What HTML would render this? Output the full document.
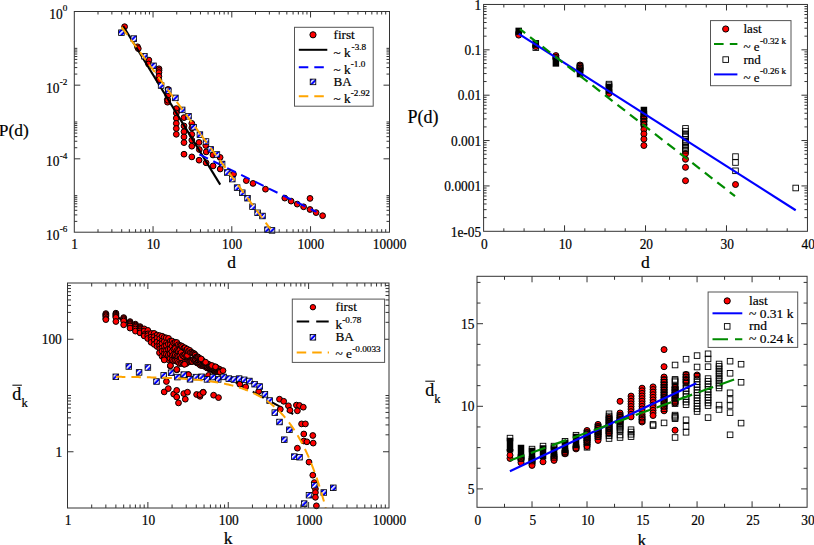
<!DOCTYPE html>
<html><head><meta charset="utf-8"><style>
html,body{margin:0;padding:0;background:#fff;}
svg{display:block;}
text{font-family:"Liberation Serif",serif;fill:#000;stroke:#000;stroke-width:0.2px;}
</style></head><body>
<svg width="814" height="545" viewBox="0 0 814 545">
<defs><pattern id="h" width="3.6" height="3.6" patternUnits="userSpaceOnUse" patternTransform="rotate(45)"><rect width="3.6" height="3.6" fill="#0000ff"/><rect width="1.5" height="3.6" fill="#fff"/></pattern></defs>
<rect width="814" height="545" fill="#fff"/>
<circle cx="124.6" cy="26.7" r="2.9" fill="#f00" stroke="#000" stroke-width="1.0"/>
<circle cx="137.5" cy="46.8" r="2.9" fill="#f00" stroke="#000" stroke-width="1.0"/>
<circle cx="138.3" cy="48.6" r="2.9" fill="#f00" stroke="#000" stroke-width="1.0"/>
<circle cx="148.9" cy="60.1" r="2.9" fill="#f00" stroke="#000" stroke-width="1.0"/>
<circle cx="148.6" cy="64" r="2.9" fill="#f00" stroke="#000" stroke-width="1.0"/>
<circle cx="159" cy="68.8" r="2.9" fill="#f00" stroke="#000" stroke-width="1.0"/>
<circle cx="159" cy="70.5" r="2.9" fill="#f00" stroke="#000" stroke-width="1.0"/>
<circle cx="158.9" cy="72.6" r="2.9" fill="#f00" stroke="#000" stroke-width="1.0"/>
<circle cx="158.9" cy="76.3" r="2.9" fill="#f00" stroke="#000" stroke-width="1.0"/>
<circle cx="158.9" cy="80" r="2.9" fill="#f00" stroke="#000" stroke-width="1.0"/>
<circle cx="168.1" cy="89.4" r="2.9" fill="#f00" stroke="#000" stroke-width="1.0"/>
<circle cx="167.3" cy="99.6" r="2.9" fill="#f00" stroke="#000" stroke-width="1.0"/>
<circle cx="167.5" cy="102.2" r="2.9" fill="#f00" stroke="#000" stroke-width="1.0"/>
<circle cx="167.8" cy="95.6" r="2.9" fill="#f00" stroke="#000" stroke-width="1.0"/>
<circle cx="167.8" cy="100.2" r="2.9" fill="#f00" stroke="#000" stroke-width="1.0"/>
<circle cx="176.3" cy="108.6" r="2.9" fill="#f00" stroke="#000" stroke-width="1.0"/>
<circle cx="176.3" cy="113.1" r="2.9" fill="#f00" stroke="#000" stroke-width="1.0"/>
<circle cx="176.3" cy="118.2" r="2.9" fill="#f00" stroke="#000" stroke-width="1.0"/>
<circle cx="176.3" cy="123.4" r="2.9" fill="#f00" stroke="#000" stroke-width="1.0"/>
<circle cx="176.3" cy="128.5" r="2.9" fill="#f00" stroke="#000" stroke-width="1.0"/>
<circle cx="176.3" cy="134.3" r="2.9" fill="#f00" stroke="#000" stroke-width="1.0"/>
<circle cx="184" cy="117.6" r="2.9" fill="#f00" stroke="#000" stroke-width="1.0"/>
<circle cx="184" cy="125.9" r="2.9" fill="#f00" stroke="#000" stroke-width="1.0"/>
<circle cx="184" cy="131.7" r="2.9" fill="#f00" stroke="#000" stroke-width="1.0"/>
<circle cx="184" cy="136.9" r="2.9" fill="#f00" stroke="#000" stroke-width="1.0"/>
<circle cx="184" cy="142.6" r="2.9" fill="#f00" stroke="#000" stroke-width="1.0"/>
<circle cx="184" cy="154.2" r="2.9" fill="#f00" stroke="#000" stroke-width="1.0"/>
<circle cx="191.8" cy="123.4" r="2.9" fill="#f00" stroke="#000" stroke-width="1.0"/>
<circle cx="191.8" cy="127.9" r="2.9" fill="#f00" stroke="#000" stroke-width="1.0"/>
<circle cx="191.8" cy="134.3" r="2.9" fill="#f00" stroke="#000" stroke-width="1.0"/>
<circle cx="191.8" cy="140.1" r="2.9" fill="#f00" stroke="#000" stroke-width="1.0"/>
<circle cx="191.8" cy="146.2" r="2.9" fill="#f00" stroke="#000" stroke-width="1.0"/>
<circle cx="191.8" cy="156.9" r="2.9" fill="#f00" stroke="#000" stroke-width="1.0"/>
<circle cx="199" cy="142.4" r="2.9" fill="#f00" stroke="#000" stroke-width="1.0"/>
<circle cx="199.3" cy="149.5" r="2.9" fill="#f00" stroke="#000" stroke-width="1.0"/>
<circle cx="199.1" cy="160.2" r="2.9" fill="#f00" stroke="#000" stroke-width="1.0"/>
<circle cx="205.8" cy="145.5" r="2.9" fill="#f00" stroke="#000" stroke-width="1.0"/>
<circle cx="206.2" cy="151.9" r="2.9" fill="#f00" stroke="#000" stroke-width="1.0"/>
<circle cx="206.1" cy="162.8" r="2.9" fill="#f00" stroke="#000" stroke-width="1.0"/>
<circle cx="213" cy="155" r="2.9" fill="#f00" stroke="#000" stroke-width="1.0"/>
<circle cx="213.1" cy="165.9" r="2.9" fill="#f00" stroke="#000" stroke-width="1.0"/>
<circle cx="220.1" cy="157.4" r="2.9" fill="#f00" stroke="#000" stroke-width="1.0"/>
<circle cx="220.2" cy="169" r="2.9" fill="#f00" stroke="#000" stroke-width="1.0"/>
<circle cx="233.5" cy="174.2" r="2.9" fill="#f00" stroke="#000" stroke-width="1.0"/>
<circle cx="246.3" cy="180.6" r="2.9" fill="#f00" stroke="#000" stroke-width="1.0"/>
<circle cx="253" cy="183.4" r="2.9" fill="#f00" stroke="#000" stroke-width="1.0"/>
<circle cx="265.5" cy="189.2" r="2.9" fill="#f00" stroke="#000" stroke-width="1.0"/>
<circle cx="284.8" cy="198.1" r="2.9" fill="#f00" stroke="#000" stroke-width="1.0"/>
<circle cx="291.1" cy="201.1" r="2.9" fill="#f00" stroke="#000" stroke-width="1.0"/>
<circle cx="297.2" cy="204.1" r="2.9" fill="#f00" stroke="#000" stroke-width="1.0"/>
<circle cx="303.6" cy="206.8" r="2.9" fill="#f00" stroke="#000" stroke-width="1.0"/>
<circle cx="310" cy="198.4" r="2.9" fill="#f00" stroke="#000" stroke-width="1.0"/>
<circle cx="310" cy="209.5" r="2.9" fill="#f00" stroke="#000" stroke-width="1.0"/>
<circle cx="316.1" cy="212.6" r="2.9" fill="#f00" stroke="#000" stroke-width="1.0"/>
<circle cx="322.6" cy="215.7" r="2.9" fill="#f00" stroke="#000" stroke-width="1.0"/>
<line x1="123.2" y1="26" x2="220.2" y2="184.6" stroke="#000" stroke-width="2.1" stroke-linecap="butt"/>
<line x1="199.4" y1="154.4" x2="316.5" y2="211.9" stroke="#0000ff" stroke-width="2" stroke-dasharray="9.5 6" stroke-linecap="butt"/>
<rect x="118.6" y="29.9" width="5.6" height="5.6" fill="url(#h)" stroke="#000" stroke-width="0.8"/>
<rect x="131" y="35.8" width="5.6" height="5.6" fill="url(#h)" stroke="#000" stroke-width="0.8"/>
<rect x="141.6" y="53.4" width="5.6" height="5.6" fill="url(#h)" stroke="#000" stroke-width="0.8"/>
<rect x="150.7" y="63" width="5.6" height="5.6" fill="url(#h)" stroke="#000" stroke-width="0.8"/>
<rect x="158.3" y="82.7" width="5.6" height="5.6" fill="url(#h)" stroke="#000" stroke-width="0.8"/>
<rect x="165.5" y="87.9" width="5.6" height="5.6" fill="url(#h)" stroke="#000" stroke-width="0.8"/>
<rect x="172.6" y="95.1" width="5.6" height="5.6" fill="url(#h)" stroke="#000" stroke-width="0.8"/>
<rect x="179.4" y="107.1" width="5.6" height="5.6" fill="url(#h)" stroke="#000" stroke-width="0.8"/>
<rect x="185.7" y="113.5" width="5.6" height="5.6" fill="url(#h)" stroke="#000" stroke-width="0.8"/>
<rect x="190.8" y="124.4" width="5.6" height="5.6" fill="url(#h)" stroke="#000" stroke-width="0.8"/>
<rect x="197.1" y="131.8" width="5.6" height="5.6" fill="url(#h)" stroke="#000" stroke-width="0.8"/>
<rect x="203.2" y="138.7" width="5.6" height="5.6" fill="url(#h)" stroke="#000" stroke-width="0.8"/>
<rect x="207.9" y="146.6" width="5.6" height="5.6" fill="url(#h)" stroke="#000" stroke-width="0.8"/>
<rect x="214.1" y="151.7" width="5.6" height="5.6" fill="url(#h)" stroke="#000" stroke-width="0.8"/>
<rect x="219.3" y="161.2" width="5.6" height="5.6" fill="url(#h)" stroke="#000" stroke-width="0.8"/>
<rect x="224.5" y="169.7" width="5.6" height="5.6" fill="url(#h)" stroke="#000" stroke-width="0.8"/>
<rect x="229.5" y="176.3" width="5.6" height="5.6" fill="url(#h)" stroke="#000" stroke-width="0.8"/>
<rect x="234.3" y="184.8" width="5.6" height="5.6" fill="url(#h)" stroke="#000" stroke-width="0.8"/>
<rect x="239.5" y="189.9" width="5.6" height="5.6" fill="url(#h)" stroke="#000" stroke-width="0.8"/>
<rect x="244.7" y="195.4" width="5.6" height="5.6" fill="url(#h)" stroke="#000" stroke-width="0.8"/>
<rect x="249.7" y="203.9" width="5.6" height="5.6" fill="url(#h)" stroke="#000" stroke-width="0.8"/>
<rect x="254.8" y="210" width="5.6" height="5.6" fill="url(#h)" stroke="#000" stroke-width="0.8"/>
<rect x="259.7" y="213.2" width="5.6" height="5.6" fill="url(#h)" stroke="#000" stroke-width="0.8"/>
<rect x="264.7" y="226.9" width="5.6" height="5.6" fill="url(#h)" stroke="#000" stroke-width="0.8"/>
<rect x="269.2" y="227.6" width="5.6" height="5.6" fill="url(#h)" stroke="#000" stroke-width="0.8"/>
<line x1="121.6" y1="27.1" x2="201.3" y2="135.25" stroke="#ffa500" stroke-width="2" stroke-dasharray="9.5 6" stroke-linecap="butt"/>
<line x1="201.3" y1="135.25" x2="270.5" y2="229.16" stroke="#ffa500" stroke-width="2" stroke-dasharray="9.5 6" stroke-linecap="butt"/>
<rect x="74.3" y="11.5" width="315.2" height="220.7" fill="none" stroke="#333" stroke-width="1"/>
<line x1="98.01" y1="232.2" x2="98.01" y2="229.2" stroke="#333" stroke-width="1" stroke-linecap="butt"/>
<line x1="98.01" y1="11.5" x2="98.01" y2="14.5" stroke="#333" stroke-width="1" stroke-linecap="butt"/>
<line x1="111.87" y1="232.2" x2="111.87" y2="229.2" stroke="#333" stroke-width="1" stroke-linecap="butt"/>
<line x1="111.87" y1="11.5" x2="111.87" y2="14.5" stroke="#333" stroke-width="1" stroke-linecap="butt"/>
<line x1="121.71" y1="232.2" x2="121.71" y2="229.2" stroke="#333" stroke-width="1" stroke-linecap="butt"/>
<line x1="121.71" y1="11.5" x2="121.71" y2="14.5" stroke="#333" stroke-width="1" stroke-linecap="butt"/>
<line x1="129.34" y1="232.2" x2="129.34" y2="229.2" stroke="#333" stroke-width="1" stroke-linecap="butt"/>
<line x1="129.34" y1="11.5" x2="129.34" y2="14.5" stroke="#333" stroke-width="1" stroke-linecap="butt"/>
<line x1="135.58" y1="232.2" x2="135.58" y2="229.2" stroke="#333" stroke-width="1" stroke-linecap="butt"/>
<line x1="135.58" y1="11.5" x2="135.58" y2="14.5" stroke="#333" stroke-width="1" stroke-linecap="butt"/>
<line x1="140.85" y1="232.2" x2="140.85" y2="229.2" stroke="#333" stroke-width="1" stroke-linecap="butt"/>
<line x1="140.85" y1="11.5" x2="140.85" y2="14.5" stroke="#333" stroke-width="1" stroke-linecap="butt"/>
<line x1="145.42" y1="232.2" x2="145.42" y2="229.2" stroke="#333" stroke-width="1" stroke-linecap="butt"/>
<line x1="145.42" y1="11.5" x2="145.42" y2="14.5" stroke="#333" stroke-width="1" stroke-linecap="butt"/>
<line x1="149.45" y1="232.2" x2="149.45" y2="229.2" stroke="#333" stroke-width="1" stroke-linecap="butt"/>
<line x1="149.45" y1="11.5" x2="149.45" y2="14.5" stroke="#333" stroke-width="1" stroke-linecap="butt"/>
<line x1="153.05" y1="232.2" x2="153.05" y2="226.2" stroke="#333" stroke-width="1" stroke-linecap="butt"/>
<line x1="153.05" y1="11.5" x2="153.05" y2="17.5" stroke="#333" stroke-width="1" stroke-linecap="butt"/>
<line x1="176.76" y1="232.2" x2="176.76" y2="229.2" stroke="#333" stroke-width="1" stroke-linecap="butt"/>
<line x1="176.76" y1="11.5" x2="176.76" y2="14.5" stroke="#333" stroke-width="1" stroke-linecap="butt"/>
<line x1="190.62" y1="232.2" x2="190.62" y2="229.2" stroke="#333" stroke-width="1" stroke-linecap="butt"/>
<line x1="190.62" y1="11.5" x2="190.62" y2="14.5" stroke="#333" stroke-width="1" stroke-linecap="butt"/>
<line x1="200.46" y1="232.2" x2="200.46" y2="229.2" stroke="#333" stroke-width="1" stroke-linecap="butt"/>
<line x1="200.46" y1="11.5" x2="200.46" y2="14.5" stroke="#333" stroke-width="1" stroke-linecap="butt"/>
<line x1="208.09" y1="232.2" x2="208.09" y2="229.2" stroke="#333" stroke-width="1" stroke-linecap="butt"/>
<line x1="208.09" y1="11.5" x2="208.09" y2="14.5" stroke="#333" stroke-width="1" stroke-linecap="butt"/>
<line x1="214.33" y1="232.2" x2="214.33" y2="229.2" stroke="#333" stroke-width="1" stroke-linecap="butt"/>
<line x1="214.33" y1="11.5" x2="214.33" y2="14.5" stroke="#333" stroke-width="1" stroke-linecap="butt"/>
<line x1="219.6" y1="232.2" x2="219.6" y2="229.2" stroke="#333" stroke-width="1" stroke-linecap="butt"/>
<line x1="219.6" y1="11.5" x2="219.6" y2="14.5" stroke="#333" stroke-width="1" stroke-linecap="butt"/>
<line x1="224.17" y1="232.2" x2="224.17" y2="229.2" stroke="#333" stroke-width="1" stroke-linecap="butt"/>
<line x1="224.17" y1="11.5" x2="224.17" y2="14.5" stroke="#333" stroke-width="1" stroke-linecap="butt"/>
<line x1="228.2" y1="232.2" x2="228.2" y2="229.2" stroke="#333" stroke-width="1" stroke-linecap="butt"/>
<line x1="228.2" y1="11.5" x2="228.2" y2="14.5" stroke="#333" stroke-width="1" stroke-linecap="butt"/>
<line x1="231.8" y1="232.2" x2="231.8" y2="226.2" stroke="#333" stroke-width="1" stroke-linecap="butt"/>
<line x1="231.8" y1="11.5" x2="231.8" y2="17.5" stroke="#333" stroke-width="1" stroke-linecap="butt"/>
<line x1="255.51" y1="232.2" x2="255.51" y2="229.2" stroke="#333" stroke-width="1" stroke-linecap="butt"/>
<line x1="255.51" y1="11.5" x2="255.51" y2="14.5" stroke="#333" stroke-width="1" stroke-linecap="butt"/>
<line x1="269.37" y1="232.2" x2="269.37" y2="229.2" stroke="#333" stroke-width="1" stroke-linecap="butt"/>
<line x1="269.37" y1="11.5" x2="269.37" y2="14.5" stroke="#333" stroke-width="1" stroke-linecap="butt"/>
<line x1="279.21" y1="232.2" x2="279.21" y2="229.2" stroke="#333" stroke-width="1" stroke-linecap="butt"/>
<line x1="279.21" y1="11.5" x2="279.21" y2="14.5" stroke="#333" stroke-width="1" stroke-linecap="butt"/>
<line x1="286.84" y1="232.2" x2="286.84" y2="229.2" stroke="#333" stroke-width="1" stroke-linecap="butt"/>
<line x1="286.84" y1="11.5" x2="286.84" y2="14.5" stroke="#333" stroke-width="1" stroke-linecap="butt"/>
<line x1="293.08" y1="232.2" x2="293.08" y2="229.2" stroke="#333" stroke-width="1" stroke-linecap="butt"/>
<line x1="293.08" y1="11.5" x2="293.08" y2="14.5" stroke="#333" stroke-width="1" stroke-linecap="butt"/>
<line x1="298.35" y1="232.2" x2="298.35" y2="229.2" stroke="#333" stroke-width="1" stroke-linecap="butt"/>
<line x1="298.35" y1="11.5" x2="298.35" y2="14.5" stroke="#333" stroke-width="1" stroke-linecap="butt"/>
<line x1="302.92" y1="232.2" x2="302.92" y2="229.2" stroke="#333" stroke-width="1" stroke-linecap="butt"/>
<line x1="302.92" y1="11.5" x2="302.92" y2="14.5" stroke="#333" stroke-width="1" stroke-linecap="butt"/>
<line x1="306.95" y1="232.2" x2="306.95" y2="229.2" stroke="#333" stroke-width="1" stroke-linecap="butt"/>
<line x1="306.95" y1="11.5" x2="306.95" y2="14.5" stroke="#333" stroke-width="1" stroke-linecap="butt"/>
<line x1="310.55" y1="232.2" x2="310.55" y2="226.2" stroke="#333" stroke-width="1" stroke-linecap="butt"/>
<line x1="310.55" y1="11.5" x2="310.55" y2="17.5" stroke="#333" stroke-width="1" stroke-linecap="butt"/>
<line x1="334.26" y1="232.2" x2="334.26" y2="229.2" stroke="#333" stroke-width="1" stroke-linecap="butt"/>
<line x1="334.26" y1="11.5" x2="334.26" y2="14.5" stroke="#333" stroke-width="1" stroke-linecap="butt"/>
<line x1="348.12" y1="232.2" x2="348.12" y2="229.2" stroke="#333" stroke-width="1" stroke-linecap="butt"/>
<line x1="348.12" y1="11.5" x2="348.12" y2="14.5" stroke="#333" stroke-width="1" stroke-linecap="butt"/>
<line x1="357.96" y1="232.2" x2="357.96" y2="229.2" stroke="#333" stroke-width="1" stroke-linecap="butt"/>
<line x1="357.96" y1="11.5" x2="357.96" y2="14.5" stroke="#333" stroke-width="1" stroke-linecap="butt"/>
<line x1="365.59" y1="232.2" x2="365.59" y2="229.2" stroke="#333" stroke-width="1" stroke-linecap="butt"/>
<line x1="365.59" y1="11.5" x2="365.59" y2="14.5" stroke="#333" stroke-width="1" stroke-linecap="butt"/>
<line x1="371.83" y1="232.2" x2="371.83" y2="229.2" stroke="#333" stroke-width="1" stroke-linecap="butt"/>
<line x1="371.83" y1="11.5" x2="371.83" y2="14.5" stroke="#333" stroke-width="1" stroke-linecap="butt"/>
<line x1="377.1" y1="232.2" x2="377.1" y2="229.2" stroke="#333" stroke-width="1" stroke-linecap="butt"/>
<line x1="377.1" y1="11.5" x2="377.1" y2="14.5" stroke="#333" stroke-width="1" stroke-linecap="butt"/>
<line x1="381.67" y1="232.2" x2="381.67" y2="229.2" stroke="#333" stroke-width="1" stroke-linecap="butt"/>
<line x1="381.67" y1="11.5" x2="381.67" y2="14.5" stroke="#333" stroke-width="1" stroke-linecap="butt"/>
<line x1="385.7" y1="232.2" x2="385.7" y2="229.2" stroke="#333" stroke-width="1" stroke-linecap="butt"/>
<line x1="385.7" y1="11.5" x2="385.7" y2="14.5" stroke="#333" stroke-width="1" stroke-linecap="butt"/>
<line x1="74.3" y1="85.16" x2="80.3" y2="85.16" stroke="#333" stroke-width="1" stroke-linecap="butt"/>
<line x1="389.5" y1="85.16" x2="383.5" y2="85.16" stroke="#333" stroke-width="1" stroke-linecap="butt"/>
<line x1="74.3" y1="74.07" x2="77.3" y2="74.07" stroke="#333" stroke-width="1" stroke-linecap="butt"/>
<line x1="389.5" y1="74.07" x2="386.5" y2="74.07" stroke="#333" stroke-width="1" stroke-linecap="butt"/>
<line x1="74.3" y1="67.59" x2="77.3" y2="67.59" stroke="#333" stroke-width="1" stroke-linecap="butt"/>
<line x1="389.5" y1="67.59" x2="386.5" y2="67.59" stroke="#333" stroke-width="1" stroke-linecap="butt"/>
<line x1="74.3" y1="62.99" x2="77.3" y2="62.99" stroke="#333" stroke-width="1" stroke-linecap="butt"/>
<line x1="389.5" y1="62.99" x2="386.5" y2="62.99" stroke="#333" stroke-width="1" stroke-linecap="butt"/>
<line x1="74.3" y1="59.42" x2="77.3" y2="59.42" stroke="#333" stroke-width="1" stroke-linecap="butt"/>
<line x1="389.5" y1="59.42" x2="386.5" y2="59.42" stroke="#333" stroke-width="1" stroke-linecap="butt"/>
<line x1="74.3" y1="56.5" x2="77.3" y2="56.5" stroke="#333" stroke-width="1" stroke-linecap="butt"/>
<line x1="389.5" y1="56.5" x2="386.5" y2="56.5" stroke="#333" stroke-width="1" stroke-linecap="butt"/>
<line x1="74.3" y1="54.04" x2="77.3" y2="54.04" stroke="#333" stroke-width="1" stroke-linecap="butt"/>
<line x1="389.5" y1="54.04" x2="386.5" y2="54.04" stroke="#333" stroke-width="1" stroke-linecap="butt"/>
<line x1="74.3" y1="51.9" x2="77.3" y2="51.9" stroke="#333" stroke-width="1" stroke-linecap="butt"/>
<line x1="389.5" y1="51.9" x2="386.5" y2="51.9" stroke="#333" stroke-width="1" stroke-linecap="butt"/>
<line x1="74.3" y1="50.02" x2="77.3" y2="50.02" stroke="#333" stroke-width="1" stroke-linecap="butt"/>
<line x1="389.5" y1="50.02" x2="386.5" y2="50.02" stroke="#333" stroke-width="1" stroke-linecap="butt"/>
<line x1="74.3" y1="48.33" x2="77.3" y2="48.33" stroke="#333" stroke-width="1" stroke-linecap="butt"/>
<line x1="389.5" y1="48.33" x2="386.5" y2="48.33" stroke="#333" stroke-width="1" stroke-linecap="butt"/>
<line x1="74.3" y1="158.82" x2="80.3" y2="158.82" stroke="#333" stroke-width="1" stroke-linecap="butt"/>
<line x1="389.5" y1="158.82" x2="383.5" y2="158.82" stroke="#333" stroke-width="1" stroke-linecap="butt"/>
<line x1="74.3" y1="147.73" x2="77.3" y2="147.73" stroke="#333" stroke-width="1" stroke-linecap="butt"/>
<line x1="389.5" y1="147.73" x2="386.5" y2="147.73" stroke="#333" stroke-width="1" stroke-linecap="butt"/>
<line x1="74.3" y1="141.25" x2="77.3" y2="141.25" stroke="#333" stroke-width="1" stroke-linecap="butt"/>
<line x1="389.5" y1="141.25" x2="386.5" y2="141.25" stroke="#333" stroke-width="1" stroke-linecap="butt"/>
<line x1="74.3" y1="136.65" x2="77.3" y2="136.65" stroke="#333" stroke-width="1" stroke-linecap="butt"/>
<line x1="389.5" y1="136.65" x2="386.5" y2="136.65" stroke="#333" stroke-width="1" stroke-linecap="butt"/>
<line x1="74.3" y1="133.08" x2="77.3" y2="133.08" stroke="#333" stroke-width="1" stroke-linecap="butt"/>
<line x1="389.5" y1="133.08" x2="386.5" y2="133.08" stroke="#333" stroke-width="1" stroke-linecap="butt"/>
<line x1="74.3" y1="130.16" x2="77.3" y2="130.16" stroke="#333" stroke-width="1" stroke-linecap="butt"/>
<line x1="389.5" y1="130.16" x2="386.5" y2="130.16" stroke="#333" stroke-width="1" stroke-linecap="butt"/>
<line x1="74.3" y1="127.7" x2="77.3" y2="127.7" stroke="#333" stroke-width="1" stroke-linecap="butt"/>
<line x1="389.5" y1="127.7" x2="386.5" y2="127.7" stroke="#333" stroke-width="1" stroke-linecap="butt"/>
<line x1="74.3" y1="125.56" x2="77.3" y2="125.56" stroke="#333" stroke-width="1" stroke-linecap="butt"/>
<line x1="389.5" y1="125.56" x2="386.5" y2="125.56" stroke="#333" stroke-width="1" stroke-linecap="butt"/>
<line x1="74.3" y1="123.68" x2="77.3" y2="123.68" stroke="#333" stroke-width="1" stroke-linecap="butt"/>
<line x1="389.5" y1="123.68" x2="386.5" y2="123.68" stroke="#333" stroke-width="1" stroke-linecap="butt"/>
<line x1="74.3" y1="121.99" x2="77.3" y2="121.99" stroke="#333" stroke-width="1" stroke-linecap="butt"/>
<line x1="389.5" y1="121.99" x2="386.5" y2="121.99" stroke="#333" stroke-width="1" stroke-linecap="butt"/>
<line x1="74.3" y1="221.39" x2="77.3" y2="221.39" stroke="#333" stroke-width="1" stroke-linecap="butt"/>
<line x1="389.5" y1="221.39" x2="386.5" y2="221.39" stroke="#333" stroke-width="1" stroke-linecap="butt"/>
<line x1="74.3" y1="214.91" x2="77.3" y2="214.91" stroke="#333" stroke-width="1" stroke-linecap="butt"/>
<line x1="389.5" y1="214.91" x2="386.5" y2="214.91" stroke="#333" stroke-width="1" stroke-linecap="butt"/>
<line x1="74.3" y1="210.31" x2="77.3" y2="210.31" stroke="#333" stroke-width="1" stroke-linecap="butt"/>
<line x1="389.5" y1="210.31" x2="386.5" y2="210.31" stroke="#333" stroke-width="1" stroke-linecap="butt"/>
<line x1="74.3" y1="206.74" x2="77.3" y2="206.74" stroke="#333" stroke-width="1" stroke-linecap="butt"/>
<line x1="389.5" y1="206.74" x2="386.5" y2="206.74" stroke="#333" stroke-width="1" stroke-linecap="butt"/>
<line x1="74.3" y1="203.82" x2="77.3" y2="203.82" stroke="#333" stroke-width="1" stroke-linecap="butt"/>
<line x1="389.5" y1="203.82" x2="386.5" y2="203.82" stroke="#333" stroke-width="1" stroke-linecap="butt"/>
<line x1="74.3" y1="201.36" x2="77.3" y2="201.36" stroke="#333" stroke-width="1" stroke-linecap="butt"/>
<line x1="389.5" y1="201.36" x2="386.5" y2="201.36" stroke="#333" stroke-width="1" stroke-linecap="butt"/>
<line x1="74.3" y1="199.22" x2="77.3" y2="199.22" stroke="#333" stroke-width="1" stroke-linecap="butt"/>
<line x1="389.5" y1="199.22" x2="386.5" y2="199.22" stroke="#333" stroke-width="1" stroke-linecap="butt"/>
<line x1="74.3" y1="197.34" x2="77.3" y2="197.34" stroke="#333" stroke-width="1" stroke-linecap="butt"/>
<line x1="389.5" y1="197.34" x2="386.5" y2="197.34" stroke="#333" stroke-width="1" stroke-linecap="butt"/>
<line x1="74.3" y1="195.65" x2="77.3" y2="195.65" stroke="#333" stroke-width="1" stroke-linecap="butt"/>
<line x1="389.5" y1="195.65" x2="386.5" y2="195.65" stroke="#333" stroke-width="1" stroke-linecap="butt"/>
<text transform="translate(74.6 248.6) scale(1 1.12)" font-size="13.4" text-anchor="middle">1</text>
<text transform="translate(153.35 248.6) scale(1 1.12)" font-size="13.4" text-anchor="middle">10</text>
<text transform="translate(232.1 248.6) scale(1 1.12)" font-size="13.4" text-anchor="middle">100</text>
<text transform="translate(310.85 248.6) scale(1 1.12)" font-size="13.4" text-anchor="middle">1000</text>
<text transform="translate(389.6 248.6) scale(1 1.12)" font-size="13.4" text-anchor="middle">10000</text>
<text transform="translate(67.3 11.3) scale(1 1.0)" font-size="9.2" text-anchor="end">0</text>
<text transform="translate(62.6 18.9) scale(1 1.12)" font-size="13.4" text-anchor="end">10</text>
<text transform="translate(67.3 84.96) scale(1 1.0)" font-size="9.2" text-anchor="end">-2</text>
<text transform="translate(59.5 92.56) scale(1 1.12)" font-size="13.4" text-anchor="end">10</text>
<text transform="translate(67.3 158.62) scale(1 1.0)" font-size="9.2" text-anchor="end">-4</text>
<text transform="translate(59.5 166.22) scale(1 1.12)" font-size="13.4" text-anchor="end">10</text>
<text transform="translate(67.3 232.28) scale(1 1.0)" font-size="9.2" text-anchor="end">-6</text>
<text transform="translate(59.5 239.88) scale(1 1.12)" font-size="13.4" text-anchor="end">10</text>
<text transform="translate(-1.2 135.6) scale(1 1.0)" font-size="17.4" text-anchor="start">P(d)</text>
<text transform="translate(231.5 267.9) scale(1 1.0)" font-size="17.4" text-anchor="middle">d</text>
<rect x="294.5" y="27.3" width="78.7" height="78.9" fill="#fff" stroke="#555" stroke-width="1"/>
<circle cx="313" cy="34.8" r="3.1" fill="#f00" stroke="#000" stroke-width="1.0"/>
<text transform="translate(333.5 39.2) scale(1 1.0)" font-size="13.2" text-anchor="start">first</text>
<line x1="298.8" y1="49.8" x2="327.3" y2="49.8" stroke="#000" stroke-width="2.0" stroke-linecap="butt"/>
<text transform="translate(333.5 56.6) scale(1 1.0)" font-size="13.2" text-anchor="start">~ k</text>
<text transform="translate(351.6 49.8) scale(1 1.0)" font-size="9.2" text-anchor="start">-3.8</text>
<line x1="298.8" y1="67.3" x2="324" y2="67.3" stroke="#0000ff" stroke-width="2" stroke-dasharray="9.5 6" stroke-linecap="butt"/>
<text transform="translate(333.5 74) scale(1 1.0)" font-size="13.2" text-anchor="start">~ k</text>
<text transform="translate(350.8 67) scale(1 1.0)" font-size="9.2" text-anchor="start">-1.0</text>
<rect x="310.2" y="79.1" width="5.6" height="5.6" fill="url(#h)" stroke="#000" stroke-width="0.8"/>
<text transform="translate(333.5 86.3) scale(1 1.0)" font-size="13.2" text-anchor="start">BA</text>
<line x1="298.8" y1="96.3" x2="324" y2="96.3" stroke="#ffa500" stroke-width="2" stroke-dasharray="9.5 6" stroke-linecap="butt"/>
<text transform="translate(333.5 103) scale(1 1.0)" font-size="13.2" text-anchor="start">~ k</text>
<text transform="translate(350.8 96) scale(1 1.0)" font-size="9.2" text-anchor="start">-2.92</text>
<circle cx="518.7" cy="32.8" r="3.0" fill="#f00" stroke="#000" stroke-width="1.0"/>
<circle cx="518.7" cy="35.1" r="3.0" fill="#f00" stroke="#000" stroke-width="1.0"/>
<rect x="515.45" y="27.65" width="6.5" height="7.2" fill="#000"/>
<circle cx="535.8" cy="45.5" r="3.0" fill="#f00" stroke="#000" stroke-width="1.0"/>
<circle cx="535.8" cy="46.6" r="3.0" fill="#f00" stroke="#000" stroke-width="1.0"/>
<rect x="532.55" y="40.05" width="6.5" height="7.8" fill="#000"/>
<rect x="533" y="44.8" width="5.6" height="5.6" fill="none" stroke="#000" stroke-width="0.9"/>
<circle cx="555.9" cy="55.6" r="3.0" fill="#f00" stroke="#000" stroke-width="1.0"/>
<circle cx="555.9" cy="57.3" r="3.0" fill="#f00" stroke="#000" stroke-width="1.0"/>
<circle cx="555.9" cy="58.8" r="3.0" fill="#f00" stroke="#000" stroke-width="1.0"/>
<rect x="552.65" y="57.35" width="6.5" height="9.3" fill="#000"/>
<circle cx="580" cy="65" r="3.0" fill="#f00" stroke="#000" stroke-width="1.0"/>
<circle cx="580" cy="66.5" r="3.0" fill="#f00" stroke="#000" stroke-width="1.0"/>
<circle cx="580" cy="68" r="3.0" fill="#f00" stroke="#000" stroke-width="1.0"/>
<circle cx="580" cy="69.5" r="3.0" fill="#f00" stroke="#000" stroke-width="1.0"/>
<rect x="576.75" y="67.75" width="6.5" height="9.5" fill="#000"/>
<rect x="577.2" y="63.2" width="5.6" height="5.6" fill="none" stroke="#000" stroke-width="0.9"/>
<rect x="577.2" y="65.2" width="5.6" height="5.6" fill="none" stroke="#000" stroke-width="0.9"/>
<rect x="577.2" y="67.2" width="5.6" height="5.6" fill="none" stroke="#000" stroke-width="0.9"/>
<circle cx="609" cy="90" r="3.0" fill="#f00" stroke="#000" stroke-width="1.0"/>
<circle cx="609" cy="91.8" r="3.0" fill="#f00" stroke="#000" stroke-width="1.0"/>
<circle cx="609" cy="93.4" r="3.0" fill="#f00" stroke="#000" stroke-width="1.0"/>
<rect x="605.75" y="83.75" width="6.5" height="10" fill="#000"/>
<rect x="606.2" y="81.3" width="5.6" height="5.6" fill="none" stroke="#000" stroke-width="0.9"/>
<rect x="606.2" y="82.8" width="5.6" height="5.6" fill="none" stroke="#000" stroke-width="0.9"/>
<circle cx="643.9" cy="116.6" r="3.0" fill="#f00" stroke="#000" stroke-width="1.0"/>
<circle cx="643.9" cy="118.3" r="3.0" fill="#f00" stroke="#000" stroke-width="1.0"/>
<circle cx="643.9" cy="121.1" r="3.0" fill="#f00" stroke="#000" stroke-width="1.0"/>
<circle cx="643.9" cy="124.8" r="3.0" fill="#f00" stroke="#000" stroke-width="1.0"/>
<circle cx="643.9" cy="129.4" r="3.0" fill="#f00" stroke="#000" stroke-width="1.0"/>
<circle cx="643.9" cy="133.9" r="3.0" fill="#f00" stroke="#000" stroke-width="1.0"/>
<circle cx="643.9" cy="139.1" r="3.0" fill="#f00" stroke="#000" stroke-width="1.0"/>
<circle cx="643.9" cy="145.5" r="3.0" fill="#f00" stroke="#000" stroke-width="1.0"/>
<rect x="640.65" y="106.75" width="6.5" height="8.5" fill="#000"/>
<rect x="641.1" y="111.2" width="5.6" height="5.6" fill="none" stroke="#000" stroke-width="0.9"/>
<rect x="641.1" y="113.7" width="5.6" height="5.6" fill="none" stroke="#000" stroke-width="0.9"/>
<rect x="641.1" y="116.2" width="5.6" height="5.6" fill="none" stroke="#000" stroke-width="0.9"/>
<rect x="641.1" y="118.7" width="5.6" height="5.6" fill="none" stroke="#000" stroke-width="0.9"/>
<rect x="641.1" y="121.2" width="5.6" height="5.6" fill="none" stroke="#000" stroke-width="0.9"/>
<circle cx="685.5" cy="153.6" r="3.0" fill="#f00" stroke="#000" stroke-width="1.0"/>
<circle cx="685.5" cy="159.3" r="3.0" fill="#f00" stroke="#000" stroke-width="1.0"/>
<circle cx="685.5" cy="167.3" r="3.0" fill="#f00" stroke="#000" stroke-width="1.0"/>
<circle cx="685.5" cy="180.7" r="3.0" fill="#f00" stroke="#000" stroke-width="1.0"/>
<rect x="682.7" y="125.6" width="5.6" height="5.6" fill="none" stroke="#000" stroke-width="0.9"/>
<rect x="682.7" y="128.4" width="5.6" height="5.6" fill="none" stroke="#000" stroke-width="0.9"/>
<rect x="682.7" y="131.2" width="5.6" height="5.6" fill="none" stroke="#000" stroke-width="0.9"/>
<rect x="682.7" y="132.7" width="5.6" height="5.6" fill="none" stroke="#000" stroke-width="0.9"/>
<rect x="682.7" y="133.9" width="5.6" height="5.6" fill="none" stroke="#000" stroke-width="0.9"/>
<rect x="682.7" y="136.6" width="5.6" height="5.6" fill="none" stroke="#000" stroke-width="0.9"/>
<rect x="682.7" y="138.7" width="5.6" height="5.6" fill="none" stroke="#000" stroke-width="0.9"/>
<rect x="682.7" y="140.3" width="5.6" height="5.6" fill="none" stroke="#000" stroke-width="0.9"/>
<rect x="682.7" y="143.1" width="5.6" height="5.6" fill="none" stroke="#000" stroke-width="0.9"/>
<rect x="682.7" y="144.5" width="5.6" height="5.6" fill="none" stroke="#000" stroke-width="0.9"/>
<rect x="682.7" y="145.8" width="5.6" height="5.6" fill="none" stroke="#000" stroke-width="0.9"/>
<rect x="682.7" y="147.5" width="5.6" height="5.6" fill="none" stroke="#000" stroke-width="0.9"/>
<circle cx="735.5" cy="184.5" r="3.0" fill="#f00" stroke="#000" stroke-width="1.0"/>
<rect x="732.7" y="153.8" width="5.6" height="5.6" fill="none" stroke="#000" stroke-width="0.9"/>
<rect x="732.7" y="159.7" width="5.6" height="5.6" fill="none" stroke="#000" stroke-width="0.9"/>
<rect x="732.7" y="168" width="5.6" height="5.6" fill="none" stroke="#000" stroke-width="0.9"/>
<rect x="792.9" y="185.2" width="5.6" height="5.6" fill="none" stroke="#000" stroke-width="0.9"/>
<line x1="518.8" y1="33.9" x2="795.7" y2="210.2" stroke="#0000ff" stroke-width="2.2" stroke-linecap="butt"/>
<line x1="519.9" y1="29.1" x2="735" y2="196.1" stroke="#008b00" stroke-width="2.2" stroke-dasharray="9.6 6.2" stroke-dashoffset="2.9" stroke-linecap="butt"/>
<rect x="483.6" y="4.46" width="323.85" height="226.84" fill="none" stroke="#333" stroke-width="1"/>
<line x1="503.84" y1="231.3" x2="503.84" y2="228.3" stroke="#333" stroke-width="1" stroke-linecap="butt"/>
<line x1="503.84" y1="4.46" x2="503.84" y2="7.46" stroke="#333" stroke-width="1" stroke-linecap="butt"/>
<line x1="524.08" y1="231.3" x2="524.08" y2="228.3" stroke="#333" stroke-width="1" stroke-linecap="butt"/>
<line x1="524.08" y1="4.46" x2="524.08" y2="7.46" stroke="#333" stroke-width="1" stroke-linecap="butt"/>
<line x1="544.32" y1="231.3" x2="544.32" y2="228.3" stroke="#333" stroke-width="1" stroke-linecap="butt"/>
<line x1="544.32" y1="4.46" x2="544.32" y2="7.46" stroke="#333" stroke-width="1" stroke-linecap="butt"/>
<line x1="564.56" y1="231.3" x2="564.56" y2="225.3" stroke="#333" stroke-width="1" stroke-linecap="butt"/>
<line x1="564.56" y1="4.46" x2="564.56" y2="10.46" stroke="#333" stroke-width="1" stroke-linecap="butt"/>
<line x1="584.8" y1="231.3" x2="584.8" y2="228.3" stroke="#333" stroke-width="1" stroke-linecap="butt"/>
<line x1="584.8" y1="4.46" x2="584.8" y2="7.46" stroke="#333" stroke-width="1" stroke-linecap="butt"/>
<line x1="605.04" y1="231.3" x2="605.04" y2="228.3" stroke="#333" stroke-width="1" stroke-linecap="butt"/>
<line x1="605.04" y1="4.46" x2="605.04" y2="7.46" stroke="#333" stroke-width="1" stroke-linecap="butt"/>
<line x1="625.28" y1="231.3" x2="625.28" y2="228.3" stroke="#333" stroke-width="1" stroke-linecap="butt"/>
<line x1="625.28" y1="4.46" x2="625.28" y2="7.46" stroke="#333" stroke-width="1" stroke-linecap="butt"/>
<line x1="645.53" y1="231.3" x2="645.53" y2="225.3" stroke="#333" stroke-width="1" stroke-linecap="butt"/>
<line x1="645.53" y1="4.46" x2="645.53" y2="10.46" stroke="#333" stroke-width="1" stroke-linecap="butt"/>
<line x1="665.77" y1="231.3" x2="665.77" y2="228.3" stroke="#333" stroke-width="1" stroke-linecap="butt"/>
<line x1="665.77" y1="4.46" x2="665.77" y2="7.46" stroke="#333" stroke-width="1" stroke-linecap="butt"/>
<line x1="686.01" y1="231.3" x2="686.01" y2="228.3" stroke="#333" stroke-width="1" stroke-linecap="butt"/>
<line x1="686.01" y1="4.46" x2="686.01" y2="7.46" stroke="#333" stroke-width="1" stroke-linecap="butt"/>
<line x1="706.25" y1="231.3" x2="706.25" y2="228.3" stroke="#333" stroke-width="1" stroke-linecap="butt"/>
<line x1="706.25" y1="4.46" x2="706.25" y2="7.46" stroke="#333" stroke-width="1" stroke-linecap="butt"/>
<line x1="726.49" y1="231.3" x2="726.49" y2="225.3" stroke="#333" stroke-width="1" stroke-linecap="butt"/>
<line x1="726.49" y1="4.46" x2="726.49" y2="10.46" stroke="#333" stroke-width="1" stroke-linecap="butt"/>
<line x1="746.73" y1="231.3" x2="746.73" y2="228.3" stroke="#333" stroke-width="1" stroke-linecap="butt"/>
<line x1="746.73" y1="4.46" x2="746.73" y2="7.46" stroke="#333" stroke-width="1" stroke-linecap="butt"/>
<line x1="766.97" y1="231.3" x2="766.97" y2="228.3" stroke="#333" stroke-width="1" stroke-linecap="butt"/>
<line x1="766.97" y1="4.46" x2="766.97" y2="7.46" stroke="#333" stroke-width="1" stroke-linecap="butt"/>
<line x1="787.21" y1="231.3" x2="787.21" y2="228.3" stroke="#333" stroke-width="1" stroke-linecap="butt"/>
<line x1="787.21" y1="4.46" x2="787.21" y2="7.46" stroke="#333" stroke-width="1" stroke-linecap="butt"/>
<line x1="483.6" y1="36.17" x2="486.6" y2="36.17" stroke="#333" stroke-width="1" stroke-linecap="butt"/>
<line x1="807.45" y1="36.17" x2="804.45" y2="36.17" stroke="#333" stroke-width="1" stroke-linecap="butt"/>
<line x1="483.6" y1="28.18" x2="486.6" y2="28.18" stroke="#333" stroke-width="1" stroke-linecap="butt"/>
<line x1="807.45" y1="28.18" x2="804.45" y2="28.18" stroke="#333" stroke-width="1" stroke-linecap="butt"/>
<line x1="483.6" y1="22.51" x2="486.6" y2="22.51" stroke="#333" stroke-width="1" stroke-linecap="butt"/>
<line x1="807.45" y1="22.51" x2="804.45" y2="22.51" stroke="#333" stroke-width="1" stroke-linecap="butt"/>
<line x1="483.6" y1="18.12" x2="486.6" y2="18.12" stroke="#333" stroke-width="1" stroke-linecap="butt"/>
<line x1="807.45" y1="18.12" x2="804.45" y2="18.12" stroke="#333" stroke-width="1" stroke-linecap="butt"/>
<line x1="483.6" y1="14.52" x2="486.6" y2="14.52" stroke="#333" stroke-width="1" stroke-linecap="butt"/>
<line x1="807.45" y1="14.52" x2="804.45" y2="14.52" stroke="#333" stroke-width="1" stroke-linecap="butt"/>
<line x1="483.6" y1="11.49" x2="486.6" y2="11.49" stroke="#333" stroke-width="1" stroke-linecap="butt"/>
<line x1="807.45" y1="11.49" x2="804.45" y2="11.49" stroke="#333" stroke-width="1" stroke-linecap="butt"/>
<line x1="483.6" y1="8.86" x2="486.6" y2="8.86" stroke="#333" stroke-width="1" stroke-linecap="butt"/>
<line x1="807.45" y1="8.86" x2="804.45" y2="8.86" stroke="#333" stroke-width="1" stroke-linecap="butt"/>
<line x1="483.6" y1="6.54" x2="486.6" y2="6.54" stroke="#333" stroke-width="1" stroke-linecap="butt"/>
<line x1="807.45" y1="6.54" x2="804.45" y2="6.54" stroke="#333" stroke-width="1" stroke-linecap="butt"/>
<line x1="483.6" y1="49.83" x2="489.6" y2="49.83" stroke="#333" stroke-width="1" stroke-linecap="butt"/>
<line x1="807.45" y1="49.83" x2="801.45" y2="49.83" stroke="#333" stroke-width="1" stroke-linecap="butt"/>
<line x1="483.6" y1="81.54" x2="486.6" y2="81.54" stroke="#333" stroke-width="1" stroke-linecap="butt"/>
<line x1="807.45" y1="81.54" x2="804.45" y2="81.54" stroke="#333" stroke-width="1" stroke-linecap="butt"/>
<line x1="483.6" y1="73.55" x2="486.6" y2="73.55" stroke="#333" stroke-width="1" stroke-linecap="butt"/>
<line x1="807.45" y1="73.55" x2="804.45" y2="73.55" stroke="#333" stroke-width="1" stroke-linecap="butt"/>
<line x1="483.6" y1="67.88" x2="486.6" y2="67.88" stroke="#333" stroke-width="1" stroke-linecap="butt"/>
<line x1="807.45" y1="67.88" x2="804.45" y2="67.88" stroke="#333" stroke-width="1" stroke-linecap="butt"/>
<line x1="483.6" y1="63.49" x2="486.6" y2="63.49" stroke="#333" stroke-width="1" stroke-linecap="butt"/>
<line x1="807.45" y1="63.49" x2="804.45" y2="63.49" stroke="#333" stroke-width="1" stroke-linecap="butt"/>
<line x1="483.6" y1="59.89" x2="486.6" y2="59.89" stroke="#333" stroke-width="1" stroke-linecap="butt"/>
<line x1="807.45" y1="59.89" x2="804.45" y2="59.89" stroke="#333" stroke-width="1" stroke-linecap="butt"/>
<line x1="483.6" y1="56.86" x2="486.6" y2="56.86" stroke="#333" stroke-width="1" stroke-linecap="butt"/>
<line x1="807.45" y1="56.86" x2="804.45" y2="56.86" stroke="#333" stroke-width="1" stroke-linecap="butt"/>
<line x1="483.6" y1="54.22" x2="486.6" y2="54.22" stroke="#333" stroke-width="1" stroke-linecap="butt"/>
<line x1="807.45" y1="54.22" x2="804.45" y2="54.22" stroke="#333" stroke-width="1" stroke-linecap="butt"/>
<line x1="483.6" y1="51.9" x2="486.6" y2="51.9" stroke="#333" stroke-width="1" stroke-linecap="butt"/>
<line x1="807.45" y1="51.9" x2="804.45" y2="51.9" stroke="#333" stroke-width="1" stroke-linecap="butt"/>
<line x1="483.6" y1="95.2" x2="489.6" y2="95.2" stroke="#333" stroke-width="1" stroke-linecap="butt"/>
<line x1="807.45" y1="95.2" x2="801.45" y2="95.2" stroke="#333" stroke-width="1" stroke-linecap="butt"/>
<line x1="483.6" y1="126.91" x2="486.6" y2="126.91" stroke="#333" stroke-width="1" stroke-linecap="butt"/>
<line x1="807.45" y1="126.91" x2="804.45" y2="126.91" stroke="#333" stroke-width="1" stroke-linecap="butt"/>
<line x1="483.6" y1="118.92" x2="486.6" y2="118.92" stroke="#333" stroke-width="1" stroke-linecap="butt"/>
<line x1="807.45" y1="118.92" x2="804.45" y2="118.92" stroke="#333" stroke-width="1" stroke-linecap="butt"/>
<line x1="483.6" y1="113.25" x2="486.6" y2="113.25" stroke="#333" stroke-width="1" stroke-linecap="butt"/>
<line x1="807.45" y1="113.25" x2="804.45" y2="113.25" stroke="#333" stroke-width="1" stroke-linecap="butt"/>
<line x1="483.6" y1="108.85" x2="486.6" y2="108.85" stroke="#333" stroke-width="1" stroke-linecap="butt"/>
<line x1="807.45" y1="108.85" x2="804.45" y2="108.85" stroke="#333" stroke-width="1" stroke-linecap="butt"/>
<line x1="483.6" y1="105.26" x2="486.6" y2="105.26" stroke="#333" stroke-width="1" stroke-linecap="butt"/>
<line x1="807.45" y1="105.26" x2="804.45" y2="105.26" stroke="#333" stroke-width="1" stroke-linecap="butt"/>
<line x1="483.6" y1="102.22" x2="486.6" y2="102.22" stroke="#333" stroke-width="1" stroke-linecap="butt"/>
<line x1="807.45" y1="102.22" x2="804.45" y2="102.22" stroke="#333" stroke-width="1" stroke-linecap="butt"/>
<line x1="483.6" y1="99.59" x2="486.6" y2="99.59" stroke="#333" stroke-width="1" stroke-linecap="butt"/>
<line x1="807.45" y1="99.59" x2="804.45" y2="99.59" stroke="#333" stroke-width="1" stroke-linecap="butt"/>
<line x1="483.6" y1="97.27" x2="486.6" y2="97.27" stroke="#333" stroke-width="1" stroke-linecap="butt"/>
<line x1="807.45" y1="97.27" x2="804.45" y2="97.27" stroke="#333" stroke-width="1" stroke-linecap="butt"/>
<line x1="483.6" y1="140.56" x2="489.6" y2="140.56" stroke="#333" stroke-width="1" stroke-linecap="butt"/>
<line x1="807.45" y1="140.56" x2="801.45" y2="140.56" stroke="#333" stroke-width="1" stroke-linecap="butt"/>
<line x1="483.6" y1="172.27" x2="486.6" y2="172.27" stroke="#333" stroke-width="1" stroke-linecap="butt"/>
<line x1="807.45" y1="172.27" x2="804.45" y2="172.27" stroke="#333" stroke-width="1" stroke-linecap="butt"/>
<line x1="483.6" y1="164.29" x2="486.6" y2="164.29" stroke="#333" stroke-width="1" stroke-linecap="butt"/>
<line x1="807.45" y1="164.29" x2="804.45" y2="164.29" stroke="#333" stroke-width="1" stroke-linecap="butt"/>
<line x1="483.6" y1="158.62" x2="486.6" y2="158.62" stroke="#333" stroke-width="1" stroke-linecap="butt"/>
<line x1="807.45" y1="158.62" x2="804.45" y2="158.62" stroke="#333" stroke-width="1" stroke-linecap="butt"/>
<line x1="483.6" y1="154.22" x2="486.6" y2="154.22" stroke="#333" stroke-width="1" stroke-linecap="butt"/>
<line x1="807.45" y1="154.22" x2="804.45" y2="154.22" stroke="#333" stroke-width="1" stroke-linecap="butt"/>
<line x1="483.6" y1="150.63" x2="486.6" y2="150.63" stroke="#333" stroke-width="1" stroke-linecap="butt"/>
<line x1="807.45" y1="150.63" x2="804.45" y2="150.63" stroke="#333" stroke-width="1" stroke-linecap="butt"/>
<line x1="483.6" y1="147.59" x2="486.6" y2="147.59" stroke="#333" stroke-width="1" stroke-linecap="butt"/>
<line x1="807.45" y1="147.59" x2="804.45" y2="147.59" stroke="#333" stroke-width="1" stroke-linecap="butt"/>
<line x1="483.6" y1="144.96" x2="486.6" y2="144.96" stroke="#333" stroke-width="1" stroke-linecap="butt"/>
<line x1="807.45" y1="144.96" x2="804.45" y2="144.96" stroke="#333" stroke-width="1" stroke-linecap="butt"/>
<line x1="483.6" y1="142.64" x2="486.6" y2="142.64" stroke="#333" stroke-width="1" stroke-linecap="butt"/>
<line x1="807.45" y1="142.64" x2="804.45" y2="142.64" stroke="#333" stroke-width="1" stroke-linecap="butt"/>
<line x1="483.6" y1="185.93" x2="489.6" y2="185.93" stroke="#333" stroke-width="1" stroke-linecap="butt"/>
<line x1="807.45" y1="185.93" x2="801.45" y2="185.93" stroke="#333" stroke-width="1" stroke-linecap="butt"/>
<line x1="483.6" y1="217.64" x2="486.6" y2="217.64" stroke="#333" stroke-width="1" stroke-linecap="butt"/>
<line x1="807.45" y1="217.64" x2="804.45" y2="217.64" stroke="#333" stroke-width="1" stroke-linecap="butt"/>
<line x1="483.6" y1="209.65" x2="486.6" y2="209.65" stroke="#333" stroke-width="1" stroke-linecap="butt"/>
<line x1="807.45" y1="209.65" x2="804.45" y2="209.65" stroke="#333" stroke-width="1" stroke-linecap="butt"/>
<line x1="483.6" y1="203.99" x2="486.6" y2="203.99" stroke="#333" stroke-width="1" stroke-linecap="butt"/>
<line x1="807.45" y1="203.99" x2="804.45" y2="203.99" stroke="#333" stroke-width="1" stroke-linecap="butt"/>
<line x1="483.6" y1="199.59" x2="486.6" y2="199.59" stroke="#333" stroke-width="1" stroke-linecap="butt"/>
<line x1="807.45" y1="199.59" x2="804.45" y2="199.59" stroke="#333" stroke-width="1" stroke-linecap="butt"/>
<line x1="483.6" y1="196" x2="486.6" y2="196" stroke="#333" stroke-width="1" stroke-linecap="butt"/>
<line x1="807.45" y1="196" x2="804.45" y2="196" stroke="#333" stroke-width="1" stroke-linecap="butt"/>
<line x1="483.6" y1="192.96" x2="486.6" y2="192.96" stroke="#333" stroke-width="1" stroke-linecap="butt"/>
<line x1="807.45" y1="192.96" x2="804.45" y2="192.96" stroke="#333" stroke-width="1" stroke-linecap="butt"/>
<line x1="483.6" y1="190.33" x2="486.6" y2="190.33" stroke="#333" stroke-width="1" stroke-linecap="butt"/>
<line x1="807.45" y1="190.33" x2="804.45" y2="190.33" stroke="#333" stroke-width="1" stroke-linecap="butt"/>
<line x1="483.6" y1="188.01" x2="486.6" y2="188.01" stroke="#333" stroke-width="1" stroke-linecap="butt"/>
<line x1="807.45" y1="188.01" x2="804.45" y2="188.01" stroke="#333" stroke-width="1" stroke-linecap="butt"/>
<text transform="translate(484.4 248.7) scale(1 1.12)" font-size="13.4" text-anchor="middle">0</text>
<text transform="translate(565.36 248.7) scale(1 1.12)" font-size="13.4" text-anchor="middle">10</text>
<text transform="translate(646.33 248.7) scale(1 1.12)" font-size="13.4" text-anchor="middle">20</text>
<text transform="translate(727.29 248.7) scale(1 1.12)" font-size="13.4" text-anchor="middle">30</text>
<text transform="translate(808.25 248.7) scale(1 1.12)" font-size="13.4" text-anchor="middle">40</text>
<text transform="translate(481.2 9.66) scale(1 1.12)" font-size="13.4" text-anchor="end">1</text>
<text transform="translate(481.2 55.03) scale(1 1.12)" font-size="13.4" text-anchor="end">0.1</text>
<text transform="translate(481.2 100.4) scale(1 1.12)" font-size="13.4" text-anchor="end">0.01</text>
<text transform="translate(481.2 145.76) scale(1 1.12)" font-size="13.4" text-anchor="end">0.001</text>
<text transform="translate(481.2 191.13) scale(1 1.12)" font-size="13.4" text-anchor="end">0.0001</text>
<text transform="translate(481.2 236.5) scale(1 1.12)" font-size="13.4" text-anchor="end">1e-05</text>
<text transform="translate(407.6 122.7) scale(1 1.0)" font-size="18" text-anchor="start">P(d)</text>
<text transform="translate(645.5 267.8) scale(1 1.0)" font-size="17.6" text-anchor="middle">d</text>
<rect x="710.5" y="20.6" width="80.5" height="65.1" fill="#fff" stroke="#555" stroke-width="1"/>
<circle cx="725.7" cy="29" r="3.1" fill="#f00" stroke="#000" stroke-width="1.0"/>
<text transform="translate(743.5 33.4) scale(1 1.0)" font-size="13" text-anchor="start">last</text>
<line x1="714" y1="43.9" x2="737.4" y2="43.9" stroke="#008b00" stroke-width="2" stroke-dasharray="9.6 6.2" stroke-linecap="butt"/>
<text transform="translate(743.5 51.3) scale(1 1.0)" font-size="13" text-anchor="start">~ e</text>
<text transform="translate(760 43.8) scale(1 1.0)" font-size="9.2" text-anchor="start">-0.32 k</text>
<rect x="722.9" y="56.8" width="5.6" height="5.6" fill="none" stroke="#000" stroke-width="0.9"/>
<text transform="translate(743.5 63.8) scale(1 1.0)" font-size="13" text-anchor="start">rnd</text>
<line x1="714" y1="74.4" x2="737.4" y2="74.4" stroke="#0000ff" stroke-width="2" stroke-linecap="butt"/>
<text transform="translate(743.5 81.8) scale(1 1.0)" font-size="13" text-anchor="start">~ e</text>
<text transform="translate(760 74.3) scale(1 1.0)" font-size="9.2" text-anchor="start">-0.26 k</text>
<line x1="116.1" y1="316.5" x2="293.2" y2="414" stroke="#000" stroke-width="2" stroke-dasharray="12.5 7" stroke-linecap="butt"/>
<circle cx="105.85" cy="313.6" r="2.9" fill="#f00" stroke="#000" stroke-width="1.0"/>
<circle cx="105.85" cy="314.6" r="2.9" fill="#f00" stroke="#000" stroke-width="1.0"/>
<circle cx="105.85" cy="315.6" r="2.9" fill="#f00" stroke="#000" stroke-width="1.0"/>
<circle cx="105.85" cy="316.8" r="2.9" fill="#f00" stroke="#000" stroke-width="1.0"/>
<circle cx="105.85" cy="318.6" r="2.9" fill="#f00" stroke="#000" stroke-width="1.0"/>
<circle cx="105.85" cy="319.6" r="2.9" fill="#f00" stroke="#000" stroke-width="1.0"/>
<circle cx="115.89" cy="313.2" r="2.9" fill="#f00" stroke="#000" stroke-width="1.0"/>
<circle cx="115.89" cy="314.2" r="2.9" fill="#f00" stroke="#000" stroke-width="1.0"/>
<circle cx="115.89" cy="315.3" r="2.9" fill="#f00" stroke="#000" stroke-width="1.0"/>
<circle cx="115.89" cy="316.4" r="2.9" fill="#f00" stroke="#000" stroke-width="1.0"/>
<circle cx="115.89" cy="317.4" r="2.9" fill="#f00" stroke="#000" stroke-width="1.0"/>
<circle cx="115.89" cy="321.5" r="2.9" fill="#f00" stroke="#000" stroke-width="1.0"/>
<circle cx="123.68" cy="317.6" r="2.9" fill="#f00" stroke="#000" stroke-width="1.0"/>
<circle cx="123.68" cy="318.6" r="2.9" fill="#f00" stroke="#000" stroke-width="1.0"/>
<circle cx="123.68" cy="319.7" r="2.9" fill="#f00" stroke="#000" stroke-width="1.0"/>
<circle cx="123.68" cy="321" r="2.9" fill="#f00" stroke="#000" stroke-width="1.0"/>
<circle cx="123.68" cy="324.8" r="2.9" fill="#f00" stroke="#000" stroke-width="1.0"/>
<circle cx="130.04" cy="321.6" r="2.9" fill="#f00" stroke="#000" stroke-width="1.0"/>
<circle cx="130.04" cy="322.6" r="2.9" fill="#f00" stroke="#000" stroke-width="1.0"/>
<circle cx="130.04" cy="323.6" r="2.9" fill="#f00" stroke="#000" stroke-width="1.0"/>
<circle cx="130.04" cy="324.6" r="2.9" fill="#f00" stroke="#000" stroke-width="1.0"/>
<circle cx="130.04" cy="326" r="2.9" fill="#f00" stroke="#000" stroke-width="1.0"/>
<circle cx="130.04" cy="328.1" r="2.9" fill="#f00" stroke="#000" stroke-width="1.0"/>
<circle cx="135.42" cy="324.2" r="2.9" fill="#f00" stroke="#000" stroke-width="1.0"/>
<circle cx="135.42" cy="325.2" r="2.9" fill="#f00" stroke="#000" stroke-width="1.0"/>
<circle cx="135.42" cy="326.2" r="2.9" fill="#f00" stroke="#000" stroke-width="1.0"/>
<circle cx="135.42" cy="327.4" r="2.9" fill="#f00" stroke="#000" stroke-width="1.0"/>
<circle cx="135.42" cy="329" r="2.9" fill="#f00" stroke="#000" stroke-width="1.0"/>
<circle cx="135.42" cy="331.1" r="2.9" fill="#f00" stroke="#000" stroke-width="1.0"/>
<circle cx="140.09" cy="326.6" r="2.9" fill="#f00" stroke="#000" stroke-width="1.0"/>
<circle cx="140.09" cy="327.6" r="2.9" fill="#f00" stroke="#000" stroke-width="1.0"/>
<circle cx="140.09" cy="328.6" r="2.9" fill="#f00" stroke="#000" stroke-width="1.0"/>
<circle cx="140.09" cy="329.6" r="2.9" fill="#f00" stroke="#000" stroke-width="1.0"/>
<circle cx="140.09" cy="331" r="2.9" fill="#f00" stroke="#000" stroke-width="1.0"/>
<circle cx="140.09" cy="332.9" r="2.9" fill="#f00" stroke="#000" stroke-width="1.0"/>
<circle cx="144.21" cy="328.87" r="2.9" fill="#f00" stroke="#000" stroke-width="1.0"/>
<circle cx="144.14" cy="331.04" r="2.9" fill="#f00" stroke="#000" stroke-width="1.0"/>
<circle cx="144.02" cy="334.55" r="2.9" fill="#f00" stroke="#000" stroke-width="1.0"/>
<circle cx="144.2" cy="335.91" r="2.9" fill="#f00" stroke="#000" stroke-width="1.0"/>
<circle cx="147.84" cy="330.38" r="2.9" fill="#f00" stroke="#000" stroke-width="1.0"/>
<circle cx="148.01" cy="333.83" r="2.9" fill="#f00" stroke="#000" stroke-width="1.0"/>
<circle cx="147.72" cy="335.77" r="2.9" fill="#f00" stroke="#000" stroke-width="1.0"/>
<circle cx="147.76" cy="338.48" r="2.9" fill="#f00" stroke="#000" stroke-width="1.0"/>
<circle cx="151.39" cy="333.42" r="2.9" fill="#f00" stroke="#000" stroke-width="1.0"/>
<circle cx="151.02" cy="337.18" r="2.9" fill="#f00" stroke="#000" stroke-width="1.0"/>
<circle cx="151.35" cy="339.56" r="2.9" fill="#f00" stroke="#000" stroke-width="1.0"/>
<circle cx="151.12" cy="342.31" r="2.9" fill="#f00" stroke="#000" stroke-width="1.0"/>
<circle cx="154.11" cy="333.39" r="2.9" fill="#f00" stroke="#000" stroke-width="1.0"/>
<circle cx="154.27" cy="336.55" r="2.9" fill="#f00" stroke="#000" stroke-width="1.0"/>
<circle cx="154.29" cy="340.14" r="2.9" fill="#f00" stroke="#000" stroke-width="1.0"/>
<circle cx="154.19" cy="344.37" r="2.9" fill="#f00" stroke="#000" stroke-width="1.0"/>
<circle cx="157.11" cy="335.05" r="2.9" fill="#f00" stroke="#000" stroke-width="1.0"/>
<circle cx="157" cy="338.1" r="2.9" fill="#f00" stroke="#000" stroke-width="1.0"/>
<circle cx="156.96" cy="342.12" r="2.9" fill="#f00" stroke="#000" stroke-width="1.0"/>
<circle cx="157.07" cy="346.43" r="2.9" fill="#f00" stroke="#000" stroke-width="1.0"/>
<circle cx="159.63" cy="335.61" r="2.9" fill="#f00" stroke="#000" stroke-width="1.0"/>
<circle cx="159.77" cy="338.68" r="2.9" fill="#f00" stroke="#000" stroke-width="1.0"/>
<circle cx="159.71" cy="343.05" r="2.9" fill="#f00" stroke="#000" stroke-width="1.0"/>
<circle cx="159.54" cy="346.24" r="2.9" fill="#f00" stroke="#000" stroke-width="1.0"/>
<circle cx="159.81" cy="348.7" r="2.9" fill="#f00" stroke="#000" stroke-width="1.0"/>
<circle cx="159.47" cy="352.74" r="2.9" fill="#f00" stroke="#000" stroke-width="1.0"/>
<circle cx="162.13" cy="336.25" r="2.9" fill="#f00" stroke="#000" stroke-width="1.0"/>
<circle cx="162.06" cy="340.84" r="2.9" fill="#f00" stroke="#000" stroke-width="1.0"/>
<circle cx="162.18" cy="343.54" r="2.9" fill="#f00" stroke="#000" stroke-width="1.0"/>
<circle cx="161.95" cy="348.12" r="2.9" fill="#f00" stroke="#000" stroke-width="1.0"/>
<circle cx="162.11" cy="351.14" r="2.9" fill="#f00" stroke="#000" stroke-width="1.0"/>
<circle cx="162.07" cy="356.31" r="2.9" fill="#f00" stroke="#000" stroke-width="1.0"/>
<circle cx="164.11" cy="337.44" r="2.9" fill="#f00" stroke="#000" stroke-width="1.0"/>
<circle cx="164.36" cy="341.34" r="2.9" fill="#f00" stroke="#000" stroke-width="1.0"/>
<circle cx="164.34" cy="346.25" r="2.9" fill="#f00" stroke="#000" stroke-width="1.0"/>
<circle cx="164.48" cy="350.61" r="2.9" fill="#f00" stroke="#000" stroke-width="1.0"/>
<circle cx="164.41" cy="353.81" r="2.9" fill="#f00" stroke="#000" stroke-width="1.0"/>
<circle cx="164.19" cy="358.34" r="2.9" fill="#f00" stroke="#000" stroke-width="1.0"/>
<circle cx="166.22" cy="337.87" r="2.9" fill="#f00" stroke="#000" stroke-width="1.0"/>
<circle cx="166.5" cy="342.64" r="2.9" fill="#f00" stroke="#000" stroke-width="1.0"/>
<circle cx="166.25" cy="345.54" r="2.9" fill="#f00" stroke="#000" stroke-width="1.0"/>
<circle cx="166.3" cy="350.62" r="2.9" fill="#f00" stroke="#000" stroke-width="1.0"/>
<circle cx="166.35" cy="354.23" r="2.9" fill="#f00" stroke="#000" stroke-width="1.0"/>
<circle cx="166.55" cy="358.33" r="2.9" fill="#f00" stroke="#000" stroke-width="1.0"/>
<circle cx="168.54" cy="338.41" r="2.9" fill="#f00" stroke="#000" stroke-width="1.0"/>
<circle cx="168.3" cy="344.11" r="2.9" fill="#f00" stroke="#000" stroke-width="1.0"/>
<circle cx="168.36" cy="349.27" r="2.9" fill="#f00" stroke="#000" stroke-width="1.0"/>
<circle cx="168.34" cy="354.9" r="2.9" fill="#f00" stroke="#000" stroke-width="1.0"/>
<circle cx="168.55" cy="359.74" r="2.9" fill="#f00" stroke="#000" stroke-width="1.0"/>
<circle cx="170.27" cy="341.25" r="2.9" fill="#f00" stroke="#000" stroke-width="1.0"/>
<circle cx="170.32" cy="344.33" r="2.9" fill="#f00" stroke="#000" stroke-width="1.0"/>
<circle cx="170.18" cy="349.07" r="2.9" fill="#f00" stroke="#000" stroke-width="1.0"/>
<circle cx="170.08" cy="353.87" r="2.9" fill="#f00" stroke="#000" stroke-width="1.0"/>
<circle cx="170.25" cy="358.57" r="2.9" fill="#f00" stroke="#000" stroke-width="1.0"/>
<circle cx="172.12" cy="341.1" r="2.9" fill="#f00" stroke="#000" stroke-width="1.0"/>
<circle cx="172.14" cy="346.19" r="2.9" fill="#f00" stroke="#000" stroke-width="1.0"/>
<circle cx="171.89" cy="351.65" r="2.9" fill="#f00" stroke="#000" stroke-width="1.0"/>
<circle cx="172.23" cy="355.82" r="2.9" fill="#f00" stroke="#000" stroke-width="1.0"/>
<circle cx="172.18" cy="360.16" r="2.9" fill="#f00" stroke="#000" stroke-width="1.0"/>
<circle cx="173.61" cy="342.96" r="2.9" fill="#f00" stroke="#000" stroke-width="1.0"/>
<circle cx="173.83" cy="349.11" r="2.9" fill="#f00" stroke="#000" stroke-width="1.0"/>
<circle cx="173.6" cy="354.6" r="2.9" fill="#f00" stroke="#000" stroke-width="1.0"/>
<circle cx="173.6" cy="360.91" r="2.9" fill="#f00" stroke="#000" stroke-width="1.0"/>
<circle cx="175.2" cy="342.28" r="2.9" fill="#f00" stroke="#000" stroke-width="1.0"/>
<circle cx="175.26" cy="348.44" r="2.9" fill="#f00" stroke="#000" stroke-width="1.0"/>
<circle cx="175.24" cy="355.05" r="2.9" fill="#f00" stroke="#000" stroke-width="1.0"/>
<circle cx="175.34" cy="360.73" r="2.9" fill="#f00" stroke="#000" stroke-width="1.0"/>
<circle cx="176.85" cy="342.53" r="2.9" fill="#f00" stroke="#000" stroke-width="1.0"/>
<circle cx="176.89" cy="350.41" r="2.9" fill="#f00" stroke="#000" stroke-width="1.0"/>
<circle cx="176.89" cy="356.06" r="2.9" fill="#f00" stroke="#000" stroke-width="1.0"/>
<circle cx="176.8" cy="361.31" r="2.9" fill="#f00" stroke="#000" stroke-width="1.0"/>
<circle cx="178.27" cy="344.77" r="2.9" fill="#f00" stroke="#000" stroke-width="1.0"/>
<circle cx="178.28" cy="351.16" r="2.9" fill="#f00" stroke="#000" stroke-width="1.0"/>
<circle cx="178.37" cy="356.21" r="2.9" fill="#f00" stroke="#000" stroke-width="1.0"/>
<circle cx="178.34" cy="362.35" r="2.9" fill="#f00" stroke="#000" stroke-width="1.0"/>
<circle cx="179.87" cy="345.57" r="2.9" fill="#f00" stroke="#000" stroke-width="1.0"/>
<circle cx="179.72" cy="350.16" r="2.9" fill="#f00" stroke="#000" stroke-width="1.0"/>
<circle cx="179.88" cy="355.8" r="2.9" fill="#f00" stroke="#000" stroke-width="1.0"/>
<circle cx="179.67" cy="363.57" r="2.9" fill="#f00" stroke="#000" stroke-width="1.0"/>
<circle cx="181.13" cy="345.79" r="2.9" fill="#f00" stroke="#000" stroke-width="1.0"/>
<circle cx="181.18" cy="352.43" r="2.9" fill="#f00" stroke="#000" stroke-width="1.0"/>
<circle cx="181.1" cy="357.94" r="2.9" fill="#f00" stroke="#000" stroke-width="1.0"/>
<circle cx="181.34" cy="363.34" r="2.9" fill="#f00" stroke="#000" stroke-width="1.0"/>
<circle cx="182.44" cy="346.59" r="2.9" fill="#f00" stroke="#000" stroke-width="1.0"/>
<circle cx="182.67" cy="355.43" r="2.9" fill="#f00" stroke="#000" stroke-width="1.0"/>
<circle cx="182.74" cy="362.87" r="2.9" fill="#f00" stroke="#000" stroke-width="1.0"/>
<circle cx="183.91" cy="347.99" r="2.9" fill="#f00" stroke="#000" stroke-width="1.0"/>
<circle cx="183.71" cy="355.99" r="2.9" fill="#f00" stroke="#000" stroke-width="1.0"/>
<circle cx="183.82" cy="364.1" r="2.9" fill="#f00" stroke="#000" stroke-width="1.0"/>
<circle cx="184.95" cy="347.82" r="2.9" fill="#f00" stroke="#000" stroke-width="1.0"/>
<circle cx="184.94" cy="354.67" r="2.9" fill="#f00" stroke="#000" stroke-width="1.0"/>
<circle cx="185.12" cy="362.17" r="2.9" fill="#f00" stroke="#000" stroke-width="1.0"/>
<circle cx="186.42" cy="349.83" r="2.9" fill="#f00" stroke="#000" stroke-width="1.0"/>
<circle cx="186.41" cy="355.7" r="2.9" fill="#f00" stroke="#000" stroke-width="1.0"/>
<circle cx="186.17" cy="363.56" r="2.9" fill="#f00" stroke="#000" stroke-width="1.0"/>
<circle cx="187.25" cy="349.14" r="2.9" fill="#f00" stroke="#000" stroke-width="1.0"/>
<circle cx="187.42" cy="355.44" r="2.9" fill="#f00" stroke="#000" stroke-width="1.0"/>
<circle cx="187.53" cy="361.66" r="2.9" fill="#f00" stroke="#000" stroke-width="1.0"/>
<circle cx="188.54" cy="351.14" r="2.9" fill="#f00" stroke="#000" stroke-width="1.0"/>
<circle cx="188.6" cy="361.82" r="2.9" fill="#f00" stroke="#000" stroke-width="1.0"/>
<circle cx="189.71" cy="350.36" r="2.9" fill="#f00" stroke="#000" stroke-width="1.0"/>
<circle cx="189.66" cy="361.79" r="2.9" fill="#f00" stroke="#000" stroke-width="1.0"/>
<circle cx="190.46" cy="352.44" r="2.9" fill="#f00" stroke="#000" stroke-width="1.0"/>
<circle cx="190.71" cy="361.12" r="2.9" fill="#f00" stroke="#000" stroke-width="1.0"/>
<circle cx="191.79" cy="352.35" r="2.9" fill="#f00" stroke="#000" stroke-width="1.0"/>
<circle cx="191.56" cy="361.54" r="2.9" fill="#f00" stroke="#000" stroke-width="1.0"/>
<circle cx="192.68" cy="353.21" r="2.9" fill="#f00" stroke="#000" stroke-width="1.0"/>
<circle cx="192.46" cy="361.6" r="2.9" fill="#f00" stroke="#000" stroke-width="1.0"/>
<circle cx="193.71" cy="353.37" r="2.9" fill="#f00" stroke="#000" stroke-width="1.0"/>
<circle cx="193.67" cy="359.79" r="2.9" fill="#f00" stroke="#000" stroke-width="1.0"/>
<circle cx="194.67" cy="354.09" r="2.9" fill="#f00" stroke="#000" stroke-width="1.0"/>
<circle cx="194.54" cy="360.93" r="2.9" fill="#f00" stroke="#000" stroke-width="1.0"/>
<circle cx="195.23" cy="355.17" r="2.9" fill="#f00" stroke="#000" stroke-width="1.0"/>
<circle cx="195.19" cy="360.17" r="2.9" fill="#f00" stroke="#000" stroke-width="1.0"/>
<circle cx="196.28" cy="357.09" r="2.9" fill="#f00" stroke="#000" stroke-width="1.0"/>
<circle cx="196.44" cy="361.16" r="2.9" fill="#f00" stroke="#000" stroke-width="1.0"/>
<circle cx="197.26" cy="356.7" r="2.9" fill="#f00" stroke="#000" stroke-width="1.0"/>
<circle cx="197.01" cy="362.91" r="2.9" fill="#f00" stroke="#000" stroke-width="1.0"/>
<circle cx="197.86" cy="357" r="2.9" fill="#f00" stroke="#000" stroke-width="1.0"/>
<circle cx="198" cy="363.03" r="2.9" fill="#f00" stroke="#000" stroke-width="1.0"/>
<circle cx="198.64" cy="357.67" r="2.9" fill="#f00" stroke="#000" stroke-width="1.0"/>
<circle cx="198.95" cy="363.82" r="2.9" fill="#f00" stroke="#000" stroke-width="1.0"/>
<circle cx="199.63" cy="358.49" r="2.9" fill="#f00" stroke="#000" stroke-width="1.0"/>
<circle cx="199.75" cy="364.14" r="2.9" fill="#f00" stroke="#000" stroke-width="1.0"/>
<circle cx="200.38" cy="359.25" r="2.9" fill="#f00" stroke="#000" stroke-width="1.0"/>
<circle cx="200.39" cy="365.3" r="2.9" fill="#f00" stroke="#000" stroke-width="1.0"/>
<circle cx="201.12" cy="360.06" r="2.9" fill="#f00" stroke="#000" stroke-width="1.0"/>
<circle cx="201.02" cy="363.73" r="2.9" fill="#f00" stroke="#000" stroke-width="1.0"/>
<circle cx="201.76" cy="359.63" r="2.9" fill="#f00" stroke="#000" stroke-width="1.0"/>
<circle cx="201.88" cy="365.52" r="2.9" fill="#f00" stroke="#000" stroke-width="1.0"/>
<circle cx="202.56" cy="361.66" r="2.9" fill="#f00" stroke="#000" stroke-width="1.0"/>
<circle cx="202.64" cy="365.26" r="2.9" fill="#f00" stroke="#000" stroke-width="1.0"/>
<circle cx="203.19" cy="361.9" r="2.9" fill="#f00" stroke="#000" stroke-width="1.0"/>
<circle cx="203.37" cy="365.93" r="2.9" fill="#f00" stroke="#000" stroke-width="1.0"/>
<circle cx="204.16" cy="361.85" r="2.9" fill="#f00" stroke="#000" stroke-width="1.0"/>
<circle cx="204.06" cy="365.13" r="2.9" fill="#f00" stroke="#000" stroke-width="1.0"/>
<circle cx="204.91" cy="363.04" r="2.9" fill="#f00" stroke="#000" stroke-width="1.0"/>
<circle cx="204.72" cy="366.3" r="2.9" fill="#f00" stroke="#000" stroke-width="1.0"/>
<circle cx="205.43" cy="363.68" r="2.9" fill="#f00" stroke="#000" stroke-width="1.0"/>
<circle cx="205.5" cy="366.12" r="2.9" fill="#f00" stroke="#000" stroke-width="1.0"/>
<circle cx="206.08" cy="363.78" r="2.9" fill="#f00" stroke="#000" stroke-width="1.0"/>
<circle cx="206.27" cy="366.51" r="2.9" fill="#f00" stroke="#000" stroke-width="1.0"/>
<circle cx="206.92" cy="364.65" r="2.9" fill="#f00" stroke="#000" stroke-width="1.0"/>
<circle cx="206.64" cy="367.52" r="2.9" fill="#f00" stroke="#000" stroke-width="1.0"/>
<circle cx="207.52" cy="364.73" r="2.9" fill="#f00" stroke="#000" stroke-width="1.0"/>
<circle cx="207.24" cy="367.98" r="2.9" fill="#f00" stroke="#000" stroke-width="1.0"/>
<circle cx="207.84" cy="364.21" r="2.9" fill="#f00" stroke="#000" stroke-width="1.0"/>
<circle cx="207.91" cy="367.29" r="2.9" fill="#f00" stroke="#000" stroke-width="1.0"/>
<circle cx="208.74" cy="364.47" r="2.9" fill="#f00" stroke="#000" stroke-width="1.0"/>
<circle cx="208.79" cy="368.05" r="2.9" fill="#f00" stroke="#000" stroke-width="1.0"/>
<circle cx="209.3" cy="364.98" r="2.9" fill="#f00" stroke="#000" stroke-width="1.0"/>
<circle cx="209.09" cy="368.45" r="2.9" fill="#f00" stroke="#000" stroke-width="1.0"/>
<circle cx="209.72" cy="366.77" r="2.9" fill="#f00" stroke="#000" stroke-width="1.0"/>
<circle cx="210.01" cy="369.25" r="2.9" fill="#f00" stroke="#000" stroke-width="1.0"/>
<circle cx="210.61" cy="366.14" r="2.9" fill="#f00" stroke="#000" stroke-width="1.0"/>
<circle cx="210.55" cy="368.51" r="2.9" fill="#f00" stroke="#000" stroke-width="1.0"/>
<circle cx="211" cy="365.99" r="2.9" fill="#f00" stroke="#000" stroke-width="1.0"/>
<circle cx="210.93" cy="368.62" r="2.9" fill="#f00" stroke="#000" stroke-width="1.0"/>
<circle cx="211.65" cy="366.34" r="2.9" fill="#f00" stroke="#000" stroke-width="1.0"/>
<circle cx="211.37" cy="368.61" r="2.9" fill="#f00" stroke="#000" stroke-width="1.0"/>
<circle cx="211.93" cy="367.22" r="2.9" fill="#f00" stroke="#000" stroke-width="1.0"/>
<circle cx="212.05" cy="369.06" r="2.9" fill="#f00" stroke="#000" stroke-width="1.0"/>
<circle cx="212.5" cy="367.52" r="2.9" fill="#f00" stroke="#000" stroke-width="1.0"/>
<circle cx="212.87" cy="369.41" r="2.9" fill="#f00" stroke="#000" stroke-width="1.0"/>
<circle cx="213.05" cy="368.01" r="2.9" fill="#f00" stroke="#000" stroke-width="1.0"/>
<circle cx="213.12" cy="370.54" r="2.9" fill="#f00" stroke="#000" stroke-width="1.0"/>
<circle cx="213.65" cy="366.67" r="2.9" fill="#f00" stroke="#000" stroke-width="1.0"/>
<circle cx="213.6" cy="370.35" r="2.9" fill="#f00" stroke="#000" stroke-width="1.0"/>
<circle cx="214.4" cy="367.58" r="2.9" fill="#f00" stroke="#000" stroke-width="1.0"/>
<circle cx="214.17" cy="370.82" r="2.9" fill="#f00" stroke="#000" stroke-width="1.0"/>
<circle cx="214.82" cy="367.19" r="2.9" fill="#f00" stroke="#000" stroke-width="1.0"/>
<circle cx="214.87" cy="371.03" r="2.9" fill="#f00" stroke="#000" stroke-width="1.0"/>
<circle cx="215.37" cy="367.22" r="2.9" fill="#f00" stroke="#000" stroke-width="1.0"/>
<circle cx="215.27" cy="369.5" r="2.9" fill="#f00" stroke="#000" stroke-width="1.0"/>
<circle cx="215.85" cy="367.39" r="2.9" fill="#f00" stroke="#000" stroke-width="1.0"/>
<circle cx="215.92" cy="371.45" r="2.9" fill="#f00" stroke="#000" stroke-width="1.0"/>
<circle cx="216.12" cy="367.66" r="2.9" fill="#f00" stroke="#000" stroke-width="1.0"/>
<circle cx="216.44" cy="371.47" r="2.9" fill="#f00" stroke="#000" stroke-width="1.0"/>
<circle cx="216.8" cy="368.64" r="2.9" fill="#f00" stroke="#000" stroke-width="1.0"/>
<circle cx="216.95" cy="370.66" r="2.9" fill="#f00" stroke="#000" stroke-width="1.0"/>
<circle cx="217.28" cy="368.51" r="2.9" fill="#f00" stroke="#000" stroke-width="1.0"/>
<circle cx="217.16" cy="370.48" r="2.9" fill="#f00" stroke="#000" stroke-width="1.0"/>
<circle cx="217.56" cy="368.42" r="2.9" fill="#f00" stroke="#000" stroke-width="1.0"/>
<circle cx="217.62" cy="370.77" r="2.9" fill="#f00" stroke="#000" stroke-width="1.0"/>
<circle cx="218.31" cy="369.06" r="2.9" fill="#f00" stroke="#000" stroke-width="1.0"/>
<circle cx="218.12" cy="371.29" r="2.9" fill="#f00" stroke="#000" stroke-width="1.0"/>
<circle cx="218.61" cy="369.66" r="2.9" fill="#f00" stroke="#000" stroke-width="1.0"/>
<circle cx="218.48" cy="371.26" r="2.9" fill="#f00" stroke="#000" stroke-width="1.0"/>
<circle cx="219.22" cy="369.39" r="2.9" fill="#f00" stroke="#000" stroke-width="1.0"/>
<circle cx="219.15" cy="371.15" r="2.9" fill="#f00" stroke="#000" stroke-width="1.0"/>
<circle cx="219.75" cy="369.49" r="2.9" fill="#f00" stroke="#000" stroke-width="1.0"/>
<circle cx="219.42" cy="372.29" r="2.9" fill="#f00" stroke="#000" stroke-width="1.0"/>
<circle cx="220.02" cy="370.97" r="2.9" fill="#f00" stroke="#000" stroke-width="1.0"/>
<circle cx="220.16" cy="372.11" r="2.9" fill="#f00" stroke="#000" stroke-width="1.0"/>
<circle cx="170.3" cy="365.9" r="2.9" fill="#f00" stroke="#000" stroke-width="1.0"/>
<circle cx="176.9" cy="369.8" r="2.9" fill="#f00" stroke="#000" stroke-width="1.0"/>
<circle cx="184.6" cy="364.3" r="2.9" fill="#f00" stroke="#000" stroke-width="1.0"/>
<circle cx="164.2" cy="359.9" r="2.9" fill="#f00" stroke="#000" stroke-width="1.0"/>
<circle cx="201.1" cy="358.9" r="2.9" fill="#f00" stroke="#000" stroke-width="1.0"/>
<circle cx="205.6" cy="362.2" r="2.9" fill="#f00" stroke="#000" stroke-width="1.0"/>
<circle cx="211.8" cy="365.5" r="2.9" fill="#f00" stroke="#000" stroke-width="1.0"/>
<circle cx="215.5" cy="366.8" r="2.9" fill="#f00" stroke="#000" stroke-width="1.0"/>
<circle cx="223" cy="370.6" r="2.9" fill="#f00" stroke="#000" stroke-width="1.0"/>
<circle cx="188.3" cy="374.6" r="2.9" fill="#f00" stroke="#000" stroke-width="1.0"/>
<circle cx="208.5" cy="375.4" r="2.9" fill="#f00" stroke="#000" stroke-width="1.0"/>
<circle cx="170.4" cy="365.6" r="2.9" fill="#f00" stroke="#000" stroke-width="1.0"/>
<circle cx="176.7" cy="369.5" r="2.9" fill="#f00" stroke="#000" stroke-width="1.0"/>
<circle cx="188.5" cy="374.6" r="2.9" fill="#f00" stroke="#000" stroke-width="1.0"/>
<circle cx="166.4" cy="381.5" r="2.9" fill="#f00" stroke="#000" stroke-width="1.0"/>
<circle cx="164.2" cy="391.9" r="2.9" fill="#f00" stroke="#000" stroke-width="1.0"/>
<circle cx="168.3" cy="388.6" r="2.9" fill="#f00" stroke="#000" stroke-width="1.0"/>
<circle cx="173.7" cy="394.1" r="2.9" fill="#f00" stroke="#000" stroke-width="1.0"/>
<circle cx="176.7" cy="390.4" r="2.9" fill="#f00" stroke="#000" stroke-width="1.0"/>
<circle cx="176.7" cy="397" r="2.9" fill="#f00" stroke="#000" stroke-width="1.0"/>
<circle cx="178.5" cy="402.9" r="2.9" fill="#f00" stroke="#000" stroke-width="1.0"/>
<circle cx="183.8" cy="393.6" r="2.9" fill="#f00" stroke="#000" stroke-width="1.0"/>
<circle cx="187.5" cy="392.2" r="2.9" fill="#f00" stroke="#000" stroke-width="1.0"/>
<circle cx="185.3" cy="399.2" r="2.9" fill="#f00" stroke="#000" stroke-width="1.0"/>
<circle cx="196.6" cy="394.5" r="2.9" fill="#f00" stroke="#000" stroke-width="1.0"/>
<circle cx="200" cy="396.3" r="2.9" fill="#f00" stroke="#000" stroke-width="1.0"/>
<circle cx="203.2" cy="392.2" r="2.9" fill="#f00" stroke="#000" stroke-width="1.0"/>
<circle cx="213.6" cy="395.2" r="2.9" fill="#f00" stroke="#000" stroke-width="1.0"/>
<circle cx="218.5" cy="397.6" r="2.9" fill="#f00" stroke="#000" stroke-width="1.0"/>
<circle cx="200" cy="394.6" r="2.9" fill="#f00" stroke="#000" stroke-width="1.0"/>
<circle cx="203.2" cy="392.4" r="2.9" fill="#f00" stroke="#000" stroke-width="1.0"/>
<circle cx="239.8" cy="384.2" r="2.9" fill="#f00" stroke="#000" stroke-width="1.0"/>
<circle cx="245.7" cy="386.9" r="2.9" fill="#f00" stroke="#000" stroke-width="1.0"/>
<circle cx="258.7" cy="391.3" r="2.9" fill="#f00" stroke="#000" stroke-width="1.0"/>
<circle cx="279.5" cy="399.2" r="2.9" fill="#f00" stroke="#000" stroke-width="1.0"/>
<circle cx="283.7" cy="401.3" r="2.9" fill="#f00" stroke="#000" stroke-width="1.0"/>
<circle cx="288.4" cy="405.8" r="2.9" fill="#f00" stroke="#000" stroke-width="1.0"/>
<circle cx="280.3" cy="409.2" r="2.9" fill="#f00" stroke="#000" stroke-width="1.0"/>
<circle cx="290" cy="410.3" r="2.9" fill="#f00" stroke="#000" stroke-width="1.0"/>
<circle cx="296.4" cy="405.1" r="2.9" fill="#f00" stroke="#000" stroke-width="1.0"/>
<circle cx="299.5" cy="405.5" r="2.9" fill="#f00" stroke="#000" stroke-width="1.0"/>
<circle cx="303.3" cy="407.2" r="2.9" fill="#f00" stroke="#000" stroke-width="1.0"/>
<circle cx="297.4" cy="410.8" r="2.9" fill="#f00" stroke="#000" stroke-width="1.0"/>
<circle cx="301.6" cy="423.9" r="2.9" fill="#f00" stroke="#000" stroke-width="1.0"/>
<circle cx="305.4" cy="423.9" r="2.9" fill="#f00" stroke="#000" stroke-width="1.0"/>
<circle cx="303.8" cy="434" r="2.9" fill="#f00" stroke="#000" stroke-width="1.0"/>
<circle cx="312.8" cy="435.5" r="2.9" fill="#f00" stroke="#000" stroke-width="1.0"/>
<circle cx="303.8" cy="441" r="2.9" fill="#f00" stroke="#000" stroke-width="1.0"/>
<circle cx="306.9" cy="441.8" r="2.9" fill="#f00" stroke="#000" stroke-width="1.0"/>
<circle cx="313.2" cy="443.1" r="2.9" fill="#f00" stroke="#000" stroke-width="1.0"/>
<circle cx="297.4" cy="448.2" r="2.9" fill="#f00" stroke="#000" stroke-width="1.0"/>
<circle cx="309" cy="462.1" r="2.9" fill="#f00" stroke="#000" stroke-width="1.0"/>
<circle cx="312.8" cy="475.2" r="2.9" fill="#f00" stroke="#000" stroke-width="1.0"/>
<circle cx="314.3" cy="482.6" r="2.9" fill="#f00" stroke="#000" stroke-width="1.0"/>
<circle cx="315.4" cy="488.9" r="2.9" fill="#f00" stroke="#000" stroke-width="1.0"/>
<circle cx="315.4" cy="492.5" r="2.9" fill="#f00" stroke="#000" stroke-width="1.0"/>
<circle cx="315.4" cy="497.3" r="2.9" fill="#f00" stroke="#000" stroke-width="1.0"/>
<circle cx="316.4" cy="505.8" r="2.9" fill="#f00" stroke="#000" stroke-width="1.0"/>
<rect x="113" y="374" width="5.6" height="5.6" fill="url(#h)" stroke="#000" stroke-width="0.8"/>
<rect x="126" y="363.7" width="5.6" height="5.6" fill="url(#h)" stroke="#000" stroke-width="0.8"/>
<rect x="136.3" y="369.6" width="5.6" height="5.6" fill="url(#h)" stroke="#000" stroke-width="0.8"/>
<rect x="145.1" y="364.7" width="5.6" height="5.6" fill="url(#h)" stroke="#000" stroke-width="0.8"/>
<rect x="153.7" y="378.7" width="5.6" height="5.6" fill="url(#h)" stroke="#000" stroke-width="0.8"/>
<rect x="160.9" y="372.6" width="5.6" height="5.6" fill="url(#h)" stroke="#000" stroke-width="0.8"/>
<rect x="168.3" y="369.9" width="5.6" height="5.6" fill="url(#h)" stroke="#000" stroke-width="0.8"/>
<rect x="174.6" y="374.3" width="5.6" height="5.6" fill="url(#h)" stroke="#000" stroke-width="0.8"/>
<rect x="181" y="371.8" width="5.6" height="5.6" fill="url(#h)" stroke="#000" stroke-width="0.8"/>
<rect x="187.2" y="376.5" width="5.6" height="5.6" fill="url(#h)" stroke="#000" stroke-width="0.8"/>
<rect x="193.1" y="374.3" width="5.6" height="5.6" fill="url(#h)" stroke="#000" stroke-width="0.8"/>
<rect x="198.8" y="374" width="5.6" height="5.6" fill="url(#h)" stroke="#000" stroke-width="0.8"/>
<rect x="204.2" y="376.6" width="5.6" height="5.6" fill="url(#h)" stroke="#000" stroke-width="0.8"/>
<rect x="210.1" y="374.3" width="5.6" height="5.6" fill="url(#h)" stroke="#000" stroke-width="0.8"/>
<rect x="215.4" y="376.6" width="5.6" height="5.6" fill="url(#h)" stroke="#000" stroke-width="0.8"/>
<rect x="220.8" y="374.1" width="5.6" height="5.6" fill="url(#h)" stroke="#000" stroke-width="0.8"/>
<rect x="226" y="375.8" width="5.6" height="5.6" fill="url(#h)" stroke="#000" stroke-width="0.8"/>
<rect x="231.1" y="376.7" width="5.6" height="5.6" fill="url(#h)" stroke="#000" stroke-width="0.8"/>
<rect x="236.3" y="375.8" width="5.6" height="5.6" fill="url(#h)" stroke="#000" stroke-width="0.8"/>
<rect x="241.4" y="377" width="5.6" height="5.6" fill="url(#h)" stroke="#000" stroke-width="0.8"/>
<rect x="246.6" y="378.2" width="5.6" height="5.6" fill="url(#h)" stroke="#000" stroke-width="0.8"/>
<rect x="251.8" y="381.4" width="5.6" height="5.6" fill="url(#h)" stroke="#000" stroke-width="0.8"/>
<rect x="256.9" y="383.7" width="5.6" height="5.6" fill="url(#h)" stroke="#000" stroke-width="0.8"/>
<rect x="262.1" y="391.5" width="5.6" height="5.6" fill="url(#h)" stroke="#000" stroke-width="0.8"/>
<rect x="266.8" y="397.7" width="5.6" height="5.6" fill="url(#h)" stroke="#000" stroke-width="0.8"/>
<rect x="272" y="409.8" width="5.6" height="5.6" fill="url(#h)" stroke="#000" stroke-width="0.8"/>
<rect x="276.7" y="419.2" width="5.6" height="5.6" fill="url(#h)" stroke="#000" stroke-width="0.8"/>
<rect x="286.6" y="427" width="5.6" height="5.6" fill="url(#h)" stroke="#000" stroke-width="0.8"/>
<rect x="281.5" y="436.9" width="5.6" height="5.6" fill="url(#h)" stroke="#000" stroke-width="0.8"/>
<rect x="291.5" y="453.8" width="5.6" height="5.6" fill="url(#h)" stroke="#000" stroke-width="0.8"/>
<rect x="296.7" y="454.4" width="5.6" height="5.6" fill="url(#h)" stroke="#000" stroke-width="0.8"/>
<rect x="311.5" y="482.5" width="5.6" height="5.6" fill="url(#h)" stroke="#000" stroke-width="0.8"/>
<rect x="306.2" y="492.4" width="5.6" height="5.6" fill="url(#h)" stroke="#000" stroke-width="0.8"/>
<rect x="321" y="489.7" width="5.6" height="5.6" fill="url(#h)" stroke="#000" stroke-width="0.8"/>
<rect x="330.5" y="485" width="5.6" height="5.6" fill="url(#h)" stroke="#000" stroke-width="0.8"/>
<rect x="301.4" y="500.8" width="5.6" height="5.6" fill="url(#h)" stroke="#000" stroke-width="0.8"/>
<polyline fill="none" stroke="#ffa500" stroke-width="2" stroke-dasharray="9.5 6" points="115.89,376.82 117.59,376.84 119.3,376.86 121,376.87 122.7,376.89 124.41,376.91 126.11,376.93 127.81,376.95 129.52,376.98 131.22,377 132.92,377.03 134.62,377.05 136.33,377.08 138.03,377.11 139.73,377.14 141.44,377.17 143.14,377.2 144.84,377.24 146.55,377.28 148.25,377.31 149.95,377.36 151.66,377.4 153.36,377.44 155.06,377.49 156.76,377.54 158.47,377.59 160.17,377.65 161.87,377.7 163.58,377.76 165.28,377.83 166.98,377.89 168.69,377.96 170.39,378.04 172.09,378.11 173.8,378.19 175.5,378.28 177.2,378.37 178.9,378.46 180.61,378.56 182.31,378.66 184.01,378.77 185.72,378.88 187.42,379 189.12,379.13 190.83,379.26 192.53,379.4 194.23,379.54 195.94,379.69 197.64,379.85 199.34,380.02 201.05,380.2 202.75,380.38 204.45,380.58 206.15,380.78 207.86,380.99 209.56,381.22 211.26,381.45 212.97,381.7 214.67,381.96 216.37,382.24 218.08,382.52 219.78,382.82 221.48,383.14 223.19,383.47 224.89,383.82 226.59,384.19 228.29,384.57 230,384.97 231.7,385.4 233.4,385.84 235.11,386.31 236.81,386.8 238.51,387.31 240.22,387.86 241.92,388.42 243.62,389.02 245.33,389.65 247.03,390.3 248.73,390.99 250.43,391.72 252.14,392.48 253.84,393.28 255.54,394.12 257.25,395 258.95,395.92 260.65,396.89 262.36,397.91 264.06,398.98 265.76,400.11 267.47,401.29 269.17,402.53 270.87,403.83 272.57,405.2 274.28,406.63 275.98,408.14 277.68,409.72 279.39,411.38 281.09,413.12 282.79,414.95 284.5,416.88 286.2,418.9 287.9,421.02 289.61,423.24 291.31,425.58 293.01,428.03 294.72,430.61 296.42,433.31 298.12,436.16 299.82,439.14 301.53,442.27 303.23,445.56 304.93,449.01 306.64,452.64 308.34,456.44 310.04,460.44 311.75,464.64 313.45,469.05 315.15,473.67 316.86,478.53 318.56,483.63 320.26,488.99 321.96,494.61 323.67,500.52 325.37,506.72 325.71,508"/>
<rect x="67.5" y="283" width="321.5" height="225" fill="none" stroke="#333" stroke-width="1"/>
<line x1="91.7" y1="508" x2="91.7" y2="504.5" stroke="#333" stroke-width="1" stroke-linecap="butt"/>
<line x1="91.7" y1="283" x2="91.7" y2="286.5" stroke="#333" stroke-width="1" stroke-linecap="butt"/>
<line x1="105.85" y1="508" x2="105.85" y2="504.5" stroke="#333" stroke-width="1" stroke-linecap="butt"/>
<line x1="105.85" y1="283" x2="105.85" y2="286.5" stroke="#333" stroke-width="1" stroke-linecap="butt"/>
<line x1="115.89" y1="508" x2="115.89" y2="504.5" stroke="#333" stroke-width="1" stroke-linecap="butt"/>
<line x1="115.89" y1="283" x2="115.89" y2="286.5" stroke="#333" stroke-width="1" stroke-linecap="butt"/>
<line x1="123.68" y1="508" x2="123.68" y2="504.5" stroke="#333" stroke-width="1" stroke-linecap="butt"/>
<line x1="123.68" y1="283" x2="123.68" y2="286.5" stroke="#333" stroke-width="1" stroke-linecap="butt"/>
<line x1="130.04" y1="508" x2="130.04" y2="504.5" stroke="#333" stroke-width="1" stroke-linecap="butt"/>
<line x1="130.04" y1="283" x2="130.04" y2="286.5" stroke="#333" stroke-width="1" stroke-linecap="butt"/>
<line x1="135.42" y1="508" x2="135.42" y2="504.5" stroke="#333" stroke-width="1" stroke-linecap="butt"/>
<line x1="135.42" y1="283" x2="135.42" y2="286.5" stroke="#333" stroke-width="1" stroke-linecap="butt"/>
<line x1="140.09" y1="508" x2="140.09" y2="504.5" stroke="#333" stroke-width="1" stroke-linecap="butt"/>
<line x1="140.09" y1="283" x2="140.09" y2="286.5" stroke="#333" stroke-width="1" stroke-linecap="butt"/>
<line x1="144.2" y1="508" x2="144.2" y2="504.5" stroke="#333" stroke-width="1" stroke-linecap="butt"/>
<line x1="144.2" y1="283" x2="144.2" y2="286.5" stroke="#333" stroke-width="1" stroke-linecap="butt"/>
<line x1="147.88" y1="508" x2="147.88" y2="502" stroke="#333" stroke-width="1" stroke-linecap="butt"/>
<line x1="147.88" y1="283" x2="147.88" y2="289" stroke="#333" stroke-width="1" stroke-linecap="butt"/>
<line x1="172.07" y1="508" x2="172.07" y2="504.5" stroke="#333" stroke-width="1" stroke-linecap="butt"/>
<line x1="172.07" y1="283" x2="172.07" y2="286.5" stroke="#333" stroke-width="1" stroke-linecap="butt"/>
<line x1="186.22" y1="508" x2="186.22" y2="504.5" stroke="#333" stroke-width="1" stroke-linecap="butt"/>
<line x1="186.22" y1="283" x2="186.22" y2="286.5" stroke="#333" stroke-width="1" stroke-linecap="butt"/>
<line x1="196.27" y1="508" x2="196.27" y2="504.5" stroke="#333" stroke-width="1" stroke-linecap="butt"/>
<line x1="196.27" y1="283" x2="196.27" y2="286.5" stroke="#333" stroke-width="1" stroke-linecap="butt"/>
<line x1="204.05" y1="508" x2="204.05" y2="504.5" stroke="#333" stroke-width="1" stroke-linecap="butt"/>
<line x1="204.05" y1="283" x2="204.05" y2="286.5" stroke="#333" stroke-width="1" stroke-linecap="butt"/>
<line x1="210.42" y1="508" x2="210.42" y2="504.5" stroke="#333" stroke-width="1" stroke-linecap="butt"/>
<line x1="210.42" y1="283" x2="210.42" y2="286.5" stroke="#333" stroke-width="1" stroke-linecap="butt"/>
<line x1="215.8" y1="508" x2="215.8" y2="504.5" stroke="#333" stroke-width="1" stroke-linecap="butt"/>
<line x1="215.8" y1="283" x2="215.8" y2="286.5" stroke="#333" stroke-width="1" stroke-linecap="butt"/>
<line x1="220.46" y1="508" x2="220.46" y2="504.5" stroke="#333" stroke-width="1" stroke-linecap="butt"/>
<line x1="220.46" y1="283" x2="220.46" y2="286.5" stroke="#333" stroke-width="1" stroke-linecap="butt"/>
<line x1="224.57" y1="508" x2="224.57" y2="504.5" stroke="#333" stroke-width="1" stroke-linecap="butt"/>
<line x1="224.57" y1="283" x2="224.57" y2="286.5" stroke="#333" stroke-width="1" stroke-linecap="butt"/>
<line x1="228.25" y1="508" x2="228.25" y2="502" stroke="#333" stroke-width="1" stroke-linecap="butt"/>
<line x1="228.25" y1="283" x2="228.25" y2="289" stroke="#333" stroke-width="1" stroke-linecap="butt"/>
<line x1="252.45" y1="508" x2="252.45" y2="504.5" stroke="#333" stroke-width="1" stroke-linecap="butt"/>
<line x1="252.45" y1="283" x2="252.45" y2="286.5" stroke="#333" stroke-width="1" stroke-linecap="butt"/>
<line x1="266.6" y1="508" x2="266.6" y2="504.5" stroke="#333" stroke-width="1" stroke-linecap="butt"/>
<line x1="266.6" y1="283" x2="266.6" y2="286.5" stroke="#333" stroke-width="1" stroke-linecap="butt"/>
<line x1="276.64" y1="508" x2="276.64" y2="504.5" stroke="#333" stroke-width="1" stroke-linecap="butt"/>
<line x1="276.64" y1="283" x2="276.64" y2="286.5" stroke="#333" stroke-width="1" stroke-linecap="butt"/>
<line x1="284.43" y1="508" x2="284.43" y2="504.5" stroke="#333" stroke-width="1" stroke-linecap="butt"/>
<line x1="284.43" y1="283" x2="284.43" y2="286.5" stroke="#333" stroke-width="1" stroke-linecap="butt"/>
<line x1="290.79" y1="508" x2="290.79" y2="504.5" stroke="#333" stroke-width="1" stroke-linecap="butt"/>
<line x1="290.79" y1="283" x2="290.79" y2="286.5" stroke="#333" stroke-width="1" stroke-linecap="butt"/>
<line x1="296.17" y1="508" x2="296.17" y2="504.5" stroke="#333" stroke-width="1" stroke-linecap="butt"/>
<line x1="296.17" y1="283" x2="296.17" y2="286.5" stroke="#333" stroke-width="1" stroke-linecap="butt"/>
<line x1="300.84" y1="508" x2="300.84" y2="504.5" stroke="#333" stroke-width="1" stroke-linecap="butt"/>
<line x1="300.84" y1="283" x2="300.84" y2="286.5" stroke="#333" stroke-width="1" stroke-linecap="butt"/>
<line x1="304.95" y1="508" x2="304.95" y2="504.5" stroke="#333" stroke-width="1" stroke-linecap="butt"/>
<line x1="304.95" y1="283" x2="304.95" y2="286.5" stroke="#333" stroke-width="1" stroke-linecap="butt"/>
<line x1="308.62" y1="508" x2="308.62" y2="502" stroke="#333" stroke-width="1" stroke-linecap="butt"/>
<line x1="308.62" y1="283" x2="308.62" y2="289" stroke="#333" stroke-width="1" stroke-linecap="butt"/>
<line x1="332.82" y1="508" x2="332.82" y2="504.5" stroke="#333" stroke-width="1" stroke-linecap="butt"/>
<line x1="332.82" y1="283" x2="332.82" y2="286.5" stroke="#333" stroke-width="1" stroke-linecap="butt"/>
<line x1="346.97" y1="508" x2="346.97" y2="504.5" stroke="#333" stroke-width="1" stroke-linecap="butt"/>
<line x1="346.97" y1="283" x2="346.97" y2="286.5" stroke="#333" stroke-width="1" stroke-linecap="butt"/>
<line x1="357.02" y1="508" x2="357.02" y2="504.5" stroke="#333" stroke-width="1" stroke-linecap="butt"/>
<line x1="357.02" y1="283" x2="357.02" y2="286.5" stroke="#333" stroke-width="1" stroke-linecap="butt"/>
<line x1="364.8" y1="508" x2="364.8" y2="504.5" stroke="#333" stroke-width="1" stroke-linecap="butt"/>
<line x1="364.8" y1="283" x2="364.8" y2="286.5" stroke="#333" stroke-width="1" stroke-linecap="butt"/>
<line x1="371.17" y1="508" x2="371.17" y2="504.5" stroke="#333" stroke-width="1" stroke-linecap="butt"/>
<line x1="371.17" y1="283" x2="371.17" y2="286.5" stroke="#333" stroke-width="1" stroke-linecap="butt"/>
<line x1="376.55" y1="508" x2="376.55" y2="504.5" stroke="#333" stroke-width="1" stroke-linecap="butt"/>
<line x1="376.55" y1="283" x2="376.55" y2="286.5" stroke="#333" stroke-width="1" stroke-linecap="butt"/>
<line x1="381.21" y1="508" x2="381.21" y2="504.5" stroke="#333" stroke-width="1" stroke-linecap="butt"/>
<line x1="381.21" y1="283" x2="381.21" y2="286.5" stroke="#333" stroke-width="1" stroke-linecap="butt"/>
<line x1="385.32" y1="508" x2="385.32" y2="504.5" stroke="#333" stroke-width="1" stroke-linecap="butt"/>
<line x1="385.32" y1="283" x2="385.32" y2="286.5" stroke="#333" stroke-width="1" stroke-linecap="butt"/>
<line x1="67.5" y1="451.75" x2="73.5" y2="451.75" stroke="#333" stroke-width="1" stroke-linecap="butt"/>
<line x1="389" y1="451.75" x2="383" y2="451.75" stroke="#333" stroke-width="1" stroke-linecap="butt"/>
<line x1="67.5" y1="434.82" x2="71" y2="434.82" stroke="#333" stroke-width="1" stroke-linecap="butt"/>
<line x1="389" y1="434.82" x2="385.5" y2="434.82" stroke="#333" stroke-width="1" stroke-linecap="butt"/>
<line x1="67.5" y1="424.91" x2="71" y2="424.91" stroke="#333" stroke-width="1" stroke-linecap="butt"/>
<line x1="389" y1="424.91" x2="385.5" y2="424.91" stroke="#333" stroke-width="1" stroke-linecap="butt"/>
<line x1="67.5" y1="417.88" x2="71" y2="417.88" stroke="#333" stroke-width="1" stroke-linecap="butt"/>
<line x1="389" y1="417.88" x2="385.5" y2="417.88" stroke="#333" stroke-width="1" stroke-linecap="butt"/>
<line x1="67.5" y1="412.43" x2="71" y2="412.43" stroke="#333" stroke-width="1" stroke-linecap="butt"/>
<line x1="389" y1="412.43" x2="385.5" y2="412.43" stroke="#333" stroke-width="1" stroke-linecap="butt"/>
<line x1="67.5" y1="407.98" x2="71" y2="407.98" stroke="#333" stroke-width="1" stroke-linecap="butt"/>
<line x1="389" y1="407.98" x2="385.5" y2="407.98" stroke="#333" stroke-width="1" stroke-linecap="butt"/>
<line x1="67.5" y1="404.21" x2="71" y2="404.21" stroke="#333" stroke-width="1" stroke-linecap="butt"/>
<line x1="389" y1="404.21" x2="385.5" y2="404.21" stroke="#333" stroke-width="1" stroke-linecap="butt"/>
<line x1="67.5" y1="400.95" x2="71" y2="400.95" stroke="#333" stroke-width="1" stroke-linecap="butt"/>
<line x1="389" y1="400.95" x2="385.5" y2="400.95" stroke="#333" stroke-width="1" stroke-linecap="butt"/>
<line x1="67.5" y1="398.07" x2="71" y2="398.07" stroke="#333" stroke-width="1" stroke-linecap="butt"/>
<line x1="389" y1="398.07" x2="385.5" y2="398.07" stroke="#333" stroke-width="1" stroke-linecap="butt"/>
<line x1="67.5" y1="395.5" x2="71" y2="395.5" stroke="#333" stroke-width="1" stroke-linecap="butt"/>
<line x1="389" y1="395.5" x2="385.5" y2="395.5" stroke="#333" stroke-width="1" stroke-linecap="butt"/>
<line x1="67.5" y1="339.25" x2="73.5" y2="339.25" stroke="#333" stroke-width="1" stroke-linecap="butt"/>
<line x1="389" y1="339.25" x2="383" y2="339.25" stroke="#333" stroke-width="1" stroke-linecap="butt"/>
<line x1="67.5" y1="322.32" x2="71" y2="322.32" stroke="#333" stroke-width="1" stroke-linecap="butt"/>
<line x1="389" y1="322.32" x2="385.5" y2="322.32" stroke="#333" stroke-width="1" stroke-linecap="butt"/>
<line x1="67.5" y1="312.41" x2="71" y2="312.41" stroke="#333" stroke-width="1" stroke-linecap="butt"/>
<line x1="389" y1="312.41" x2="385.5" y2="312.41" stroke="#333" stroke-width="1" stroke-linecap="butt"/>
<line x1="67.5" y1="305.38" x2="71" y2="305.38" stroke="#333" stroke-width="1" stroke-linecap="butt"/>
<line x1="389" y1="305.38" x2="385.5" y2="305.38" stroke="#333" stroke-width="1" stroke-linecap="butt"/>
<line x1="67.5" y1="299.93" x2="71" y2="299.93" stroke="#333" stroke-width="1" stroke-linecap="butt"/>
<line x1="389" y1="299.93" x2="385.5" y2="299.93" stroke="#333" stroke-width="1" stroke-linecap="butt"/>
<line x1="67.5" y1="295.48" x2="71" y2="295.48" stroke="#333" stroke-width="1" stroke-linecap="butt"/>
<line x1="389" y1="295.48" x2="385.5" y2="295.48" stroke="#333" stroke-width="1" stroke-linecap="butt"/>
<line x1="67.5" y1="291.71" x2="71" y2="291.71" stroke="#333" stroke-width="1" stroke-linecap="butt"/>
<line x1="389" y1="291.71" x2="385.5" y2="291.71" stroke="#333" stroke-width="1" stroke-linecap="butt"/>
<line x1="67.5" y1="288.45" x2="71" y2="288.45" stroke="#333" stroke-width="1" stroke-linecap="butt"/>
<line x1="389" y1="288.45" x2="385.5" y2="288.45" stroke="#333" stroke-width="1" stroke-linecap="butt"/>
<line x1="67.5" y1="285.57" x2="71" y2="285.57" stroke="#333" stroke-width="1" stroke-linecap="butt"/>
<line x1="389" y1="285.57" x2="385.5" y2="285.57" stroke="#333" stroke-width="1" stroke-linecap="butt"/>
<text transform="translate(68 525) scale(1 1.12)" font-size="13.4" text-anchor="middle">1</text>
<text transform="translate(148.38 525) scale(1 1.12)" font-size="13.4" text-anchor="middle">10</text>
<text transform="translate(228.75 525) scale(1 1.12)" font-size="13.4" text-anchor="middle">100</text>
<text transform="translate(309.12 525) scale(1 1.12)" font-size="13.4" text-anchor="middle">1000</text>
<text transform="translate(389.5 525) scale(1 1.12)" font-size="13.4" text-anchor="middle">10000</text>
<text transform="translate(61.8 344.45) scale(1 1.12)" font-size="13.4" text-anchor="end">100</text>
<text transform="translate(62.2 457.25) scale(1 1.12)" font-size="13.4" text-anchor="end">1</text>
<text transform="translate(228.2 544.4) scale(1 1.0)" font-size="17.6" text-anchor="middle">k</text>
<text transform="translate(12.2 399.7) scale(1 1.0)" font-size="18" text-anchor="start">d</text>
<line x1="12.4" y1="385.2" x2="21.9" y2="385.2" stroke="#000" stroke-width="1" stroke-linecap="butt"/>
<text transform="translate(21.5 406.5) scale(1 1.0)" font-size="12.6" text-anchor="start">k</text>
<rect x="292.3" y="299.1" width="92.3" height="63.3" fill="#fff" stroke="#555" stroke-width="1"/>
<circle cx="312.9" cy="307.2" r="2.7" fill="#f00" stroke="#000" stroke-width="1.0"/>
<text transform="translate(335.5 311.3) scale(1 1.0)" font-size="13.3" text-anchor="start">first</text>
<line x1="296.7" y1="321.6" x2="329" y2="321.6" stroke="#000" stroke-width="2" stroke-dasharray="12.5 7" stroke-linecap="butt"/>
<text transform="translate(335.5 328.9) scale(1 1.0)" font-size="13.3" text-anchor="start">k</text>
<text transform="translate(342.3 322.8) scale(1 1.0)" font-size="9.2" text-anchor="start">-0.78</text>
<rect x="310.1" y="334.5" width="5.6" height="5.6" fill="url(#h)" stroke="#000" stroke-width="0.8"/>
<text transform="translate(335.5 341.4) scale(1 1.0)" font-size="13.3" text-anchor="start">BA</text>
<line x1="296.7" y1="352.4" x2="329" y2="352.4" stroke="#ffa500" stroke-width="2" stroke-dasharray="9.5 6" stroke-linecap="butt"/>
<text transform="translate(335.5 358.3) scale(1 1.0)" font-size="13.3" text-anchor="start">~ e</text>
<text transform="translate(352.3 352) scale(1 1.0)" font-size="9.2" text-anchor="start">-0.0033</text>
<circle cx="510.01" cy="458.4" r="3.0" fill="#f00" stroke="#000" stroke-width="1.0"/>
<circle cx="510.01" cy="450" r="3.0" fill="#f00" stroke="#000" stroke-width="1.0"/>
<circle cx="510.01" cy="455.2" r="3.0" fill="#f00" stroke="#000" stroke-width="1.0"/>
<circle cx="521.01" cy="457.5" r="3.0" fill="#f00" stroke="#000" stroke-width="1.0"/>
<circle cx="521.01" cy="458.7" r="3.0" fill="#f00" stroke="#000" stroke-width="1.0"/>
<circle cx="521.01" cy="459.9" r="3.0" fill="#f00" stroke="#000" stroke-width="1.0"/>
<circle cx="521.01" cy="462.7" r="3.0" fill="#f00" stroke="#000" stroke-width="1.0"/>
<circle cx="532.02" cy="459" r="3.0" fill="#f00" stroke="#000" stroke-width="1.0"/>
<circle cx="532.02" cy="460.6" r="3.0" fill="#f00" stroke="#000" stroke-width="1.0"/>
<circle cx="532.02" cy="462.2" r="3.0" fill="#f00" stroke="#000" stroke-width="1.0"/>
<circle cx="532.02" cy="463.8" r="3.0" fill="#f00" stroke="#000" stroke-width="1.0"/>
<circle cx="532.02" cy="465.4" r="3.0" fill="#f00" stroke="#000" stroke-width="1.0"/>
<circle cx="543.02" cy="461.8" r="3.0" fill="#f00" stroke="#000" stroke-width="1.0"/>
<circle cx="554.02" cy="456.8" r="3.0" fill="#f00" stroke="#000" stroke-width="1.0"/>
<circle cx="554.02" cy="458" r="3.0" fill="#f00" stroke="#000" stroke-width="1.0"/>
<circle cx="554.02" cy="459.2" r="3.0" fill="#f00" stroke="#000" stroke-width="1.0"/>
<circle cx="554.02" cy="460.4" r="3.0" fill="#f00" stroke="#000" stroke-width="1.0"/>
<circle cx="565.03" cy="451" r="3.0" fill="#f00" stroke="#000" stroke-width="1.0"/>
<circle cx="565.03" cy="452.4" r="3.0" fill="#f00" stroke="#000" stroke-width="1.0"/>
<circle cx="565.03" cy="453.8" r="3.0" fill="#f00" stroke="#000" stroke-width="1.0"/>
<circle cx="576.03" cy="446.5" r="3.0" fill="#f00" stroke="#000" stroke-width="1.0"/>
<circle cx="576.03" cy="447.7" r="3.0" fill="#f00" stroke="#000" stroke-width="1.0"/>
<circle cx="576.03" cy="448.9" r="3.0" fill="#f00" stroke="#000" stroke-width="1.0"/>
<circle cx="587.03" cy="430.5" r="3.0" fill="#f00" stroke="#000" stroke-width="1.0"/>
<circle cx="587.03" cy="432.5" r="3.0" fill="#f00" stroke="#000" stroke-width="1.0"/>
<circle cx="587.03" cy="434.5" r="3.0" fill="#f00" stroke="#000" stroke-width="1.0"/>
<circle cx="587.03" cy="436.5" r="3.0" fill="#f00" stroke="#000" stroke-width="1.0"/>
<circle cx="587.03" cy="438.5" r="3.0" fill="#f00" stroke="#000" stroke-width="1.0"/>
<circle cx="587.03" cy="440.5" r="3.0" fill="#f00" stroke="#000" stroke-width="1.0"/>
<circle cx="587.03" cy="442.5" r="3.0" fill="#f00" stroke="#000" stroke-width="1.0"/>
<circle cx="587.03" cy="444.5" r="3.0" fill="#f00" stroke="#000" stroke-width="1.0"/>
<circle cx="587.03" cy="446.5" r="3.0" fill="#f00" stroke="#000" stroke-width="1.0"/>
<circle cx="598.04" cy="424.4" r="3.0" fill="#f00" stroke="#000" stroke-width="1.0"/>
<circle cx="598.04" cy="426.4" r="3.0" fill="#f00" stroke="#000" stroke-width="1.0"/>
<circle cx="598.04" cy="428.4" r="3.0" fill="#f00" stroke="#000" stroke-width="1.0"/>
<circle cx="598.04" cy="430.4" r="3.0" fill="#f00" stroke="#000" stroke-width="1.0"/>
<circle cx="598.04" cy="432.4" r="3.0" fill="#f00" stroke="#000" stroke-width="1.0"/>
<circle cx="598.04" cy="434.4" r="3.0" fill="#f00" stroke="#000" stroke-width="1.0"/>
<circle cx="598.04" cy="436.4" r="3.0" fill="#f00" stroke="#000" stroke-width="1.0"/>
<circle cx="598.04" cy="438.4" r="3.0" fill="#f00" stroke="#000" stroke-width="1.0"/>
<circle cx="598.04" cy="440.4" r="3.0" fill="#f00" stroke="#000" stroke-width="1.0"/>
<circle cx="609.04" cy="417.6" r="3.0" fill="#f00" stroke="#000" stroke-width="1.0"/>
<circle cx="609.04" cy="419.8" r="3.0" fill="#f00" stroke="#000" stroke-width="1.0"/>
<circle cx="609.04" cy="422" r="3.0" fill="#f00" stroke="#000" stroke-width="1.0"/>
<circle cx="609.04" cy="424.2" r="3.0" fill="#f00" stroke="#000" stroke-width="1.0"/>
<circle cx="609.04" cy="426.4" r="3.0" fill="#f00" stroke="#000" stroke-width="1.0"/>
<circle cx="609.04" cy="428.6" r="3.0" fill="#f00" stroke="#000" stroke-width="1.0"/>
<circle cx="609.04" cy="430.8" r="3.0" fill="#f00" stroke="#000" stroke-width="1.0"/>
<circle cx="609.04" cy="433" r="3.0" fill="#f00" stroke="#000" stroke-width="1.0"/>
<circle cx="620.04" cy="401.3" r="3.0" fill="#f00" stroke="#000" stroke-width="1.0"/>
<circle cx="620.04" cy="413" r="3.0" fill="#f00" stroke="#000" stroke-width="1.0"/>
<circle cx="620.04" cy="415.2" r="3.0" fill="#f00" stroke="#000" stroke-width="1.0"/>
<circle cx="620.04" cy="417.4" r="3.0" fill="#f00" stroke="#000" stroke-width="1.0"/>
<circle cx="620.04" cy="419.6" r="3.0" fill="#f00" stroke="#000" stroke-width="1.0"/>
<circle cx="620.04" cy="421.8" r="3.0" fill="#f00" stroke="#000" stroke-width="1.0"/>
<circle cx="631.05" cy="396.1" r="3.0" fill="#f00" stroke="#000" stroke-width="1.0"/>
<circle cx="631.05" cy="398.7" r="3.0" fill="#f00" stroke="#000" stroke-width="1.0"/>
<circle cx="631.05" cy="401.3" r="3.0" fill="#f00" stroke="#000" stroke-width="1.0"/>
<circle cx="631.05" cy="403.9" r="3.0" fill="#f00" stroke="#000" stroke-width="1.0"/>
<circle cx="631.05" cy="406.5" r="3.0" fill="#f00" stroke="#000" stroke-width="1.0"/>
<circle cx="631.05" cy="409.1" r="3.0" fill="#f00" stroke="#000" stroke-width="1.0"/>
<circle cx="631.05" cy="411.7" r="3.0" fill="#f00" stroke="#000" stroke-width="1.0"/>
<circle cx="631.05" cy="414.3" r="3.0" fill="#f00" stroke="#000" stroke-width="1.0"/>
<circle cx="631.05" cy="416.9" r="3.0" fill="#f00" stroke="#000" stroke-width="1.0"/>
<circle cx="642.05" cy="388.2" r="3.0" fill="#f00" stroke="#000" stroke-width="1.0"/>
<circle cx="642.05" cy="390.8" r="3.0" fill="#f00" stroke="#000" stroke-width="1.0"/>
<circle cx="642.05" cy="393.4" r="3.0" fill="#f00" stroke="#000" stroke-width="1.0"/>
<circle cx="642.05" cy="396" r="3.0" fill="#f00" stroke="#000" stroke-width="1.0"/>
<circle cx="642.05" cy="398.6" r="3.0" fill="#f00" stroke="#000" stroke-width="1.0"/>
<circle cx="642.05" cy="401.2" r="3.0" fill="#f00" stroke="#000" stroke-width="1.0"/>
<circle cx="642.05" cy="403.8" r="3.0" fill="#f00" stroke="#000" stroke-width="1.0"/>
<circle cx="642.05" cy="406.4" r="3.0" fill="#f00" stroke="#000" stroke-width="1.0"/>
<circle cx="642.05" cy="409" r="3.0" fill="#f00" stroke="#000" stroke-width="1.0"/>
<circle cx="642.05" cy="411.6" r="3.0" fill="#f00" stroke="#000" stroke-width="1.0"/>
<circle cx="642.05" cy="414.2" r="3.0" fill="#f00" stroke="#000" stroke-width="1.0"/>
<circle cx="642.05" cy="416.8" r="3.0" fill="#f00" stroke="#000" stroke-width="1.0"/>
<circle cx="642.05" cy="419.4" r="3.0" fill="#f00" stroke="#000" stroke-width="1.0"/>
<circle cx="642.05" cy="422" r="3.0" fill="#f00" stroke="#000" stroke-width="1.0"/>
<circle cx="653.05" cy="386.9" r="3.0" fill="#f00" stroke="#000" stroke-width="1.0"/>
<circle cx="653.05" cy="389.5" r="3.0" fill="#f00" stroke="#000" stroke-width="1.0"/>
<circle cx="653.05" cy="392.1" r="3.0" fill="#f00" stroke="#000" stroke-width="1.0"/>
<circle cx="653.05" cy="394.7" r="3.0" fill="#f00" stroke="#000" stroke-width="1.0"/>
<circle cx="653.05" cy="397.3" r="3.0" fill="#f00" stroke="#000" stroke-width="1.0"/>
<circle cx="653.05" cy="399.9" r="3.0" fill="#f00" stroke="#000" stroke-width="1.0"/>
<circle cx="653.05" cy="402.5" r="3.0" fill="#f00" stroke="#000" stroke-width="1.0"/>
<circle cx="653.05" cy="405.1" r="3.0" fill="#f00" stroke="#000" stroke-width="1.0"/>
<circle cx="653.05" cy="407.7" r="3.0" fill="#f00" stroke="#000" stroke-width="1.0"/>
<circle cx="653.05" cy="410.3" r="3.0" fill="#f00" stroke="#000" stroke-width="1.0"/>
<circle cx="653.05" cy="412.9" r="3.0" fill="#f00" stroke="#000" stroke-width="1.0"/>
<circle cx="653.05" cy="415.5" r="3.0" fill="#f00" stroke="#000" stroke-width="1.0"/>
<circle cx="664.06" cy="349.6" r="3.0" fill="#f00" stroke="#000" stroke-width="1.0"/>
<circle cx="664.06" cy="366.7" r="3.0" fill="#f00" stroke="#000" stroke-width="1.0"/>
<circle cx="664.06" cy="377" r="3.0" fill="#f00" stroke="#000" stroke-width="1.0"/>
<circle cx="664.06" cy="379.6" r="3.0" fill="#f00" stroke="#000" stroke-width="1.0"/>
<circle cx="664.06" cy="382.2" r="3.0" fill="#f00" stroke="#000" stroke-width="1.0"/>
<circle cx="664.06" cy="384.8" r="3.0" fill="#f00" stroke="#000" stroke-width="1.0"/>
<circle cx="664.06" cy="387.4" r="3.0" fill="#f00" stroke="#000" stroke-width="1.0"/>
<circle cx="664.06" cy="390" r="3.0" fill="#f00" stroke="#000" stroke-width="1.0"/>
<circle cx="664.06" cy="392.6" r="3.0" fill="#f00" stroke="#000" stroke-width="1.0"/>
<circle cx="664.06" cy="395.2" r="3.0" fill="#f00" stroke="#000" stroke-width="1.0"/>
<circle cx="664.06" cy="397.8" r="3.0" fill="#f00" stroke="#000" stroke-width="1.0"/>
<circle cx="664.06" cy="400.4" r="3.0" fill="#f00" stroke="#000" stroke-width="1.0"/>
<circle cx="664.06" cy="403" r="3.0" fill="#f00" stroke="#000" stroke-width="1.0"/>
<circle cx="664.06" cy="405.6" r="3.0" fill="#f00" stroke="#000" stroke-width="1.0"/>
<circle cx="664.06" cy="408.2" r="3.0" fill="#f00" stroke="#000" stroke-width="1.0"/>
<circle cx="664.06" cy="410.8" r="3.0" fill="#f00" stroke="#000" stroke-width="1.0"/>
<circle cx="675.06" cy="387.4" r="3.0" fill="#f00" stroke="#000" stroke-width="1.0"/>
<circle cx="675.06" cy="390" r="3.0" fill="#f00" stroke="#000" stroke-width="1.0"/>
<circle cx="675.06" cy="392.6" r="3.0" fill="#f00" stroke="#000" stroke-width="1.0"/>
<circle cx="675.06" cy="395.2" r="3.0" fill="#f00" stroke="#000" stroke-width="1.0"/>
<circle cx="675.06" cy="397.8" r="3.0" fill="#f00" stroke="#000" stroke-width="1.0"/>
<circle cx="675.06" cy="400.4" r="3.0" fill="#f00" stroke="#000" stroke-width="1.0"/>
<circle cx="675.06" cy="403" r="3.0" fill="#f00" stroke="#000" stroke-width="1.0"/>
<circle cx="675.06" cy="430.2" r="3.0" fill="#f00" stroke="#000" stroke-width="1.0"/>
<circle cx="686.06" cy="374.4" r="3.0" fill="#f00" stroke="#000" stroke-width="1.0"/>
<circle cx="686.06" cy="376.9" r="3.0" fill="#f00" stroke="#000" stroke-width="1.0"/>
<circle cx="686.06" cy="379.4" r="3.0" fill="#f00" stroke="#000" stroke-width="1.0"/>
<circle cx="686.06" cy="381.9" r="3.0" fill="#f00" stroke="#000" stroke-width="1.0"/>
<circle cx="697.07" cy="375" r="3.0" fill="#f00" stroke="#000" stroke-width="1.0"/>
<rect x="507.21" y="435.3" width="5.6" height="5.6" fill="none" stroke="#000" stroke-width="0.9"/>
<rect x="506.76" y="437.75" width="6.5" height="14.7" fill="#000"/>
<rect x="517.76" y="444.75" width="6.5" height="14" fill="#000"/>
<rect x="518.21" y="454.4" width="5.6" height="5.6" fill="none" stroke="#000" stroke-width="0.9"/>
<rect x="518.21" y="455.8" width="5.6" height="5.6" fill="none" stroke="#000" stroke-width="0.9"/>
<rect x="529.22" y="446.3" width="5.6" height="5.6" fill="none" stroke="#000" stroke-width="0.9"/>
<rect x="528.77" y="447.75" width="6.5" height="13" fill="#000"/>
<rect x="529.22" y="456.4" width="5.6" height="5.6" fill="none" stroke="#000" stroke-width="0.9"/>
<rect x="529.22" y="458.2" width="5.6" height="5.6" fill="none" stroke="#000" stroke-width="0.9"/>
<rect x="540.22" y="443.3" width="5.6" height="5.6" fill="none" stroke="#000" stroke-width="0.9"/>
<rect x="539.77" y="445.25" width="6.5" height="14" fill="#000"/>
<rect x="551.22" y="443.3" width="5.6" height="5.6" fill="none" stroke="#000" stroke-width="0.9"/>
<rect x="551.22" y="445" width="5.6" height="5.6" fill="none" stroke="#000" stroke-width="0.9"/>
<rect x="550.77" y="446.25" width="6.5" height="10.5" fill="#000"/>
<rect x="551.22" y="452.7" width="5.6" height="5.6" fill="none" stroke="#000" stroke-width="0.9"/>
<rect x="551.22" y="454.5" width="5.6" height="5.6" fill="none" stroke="#000" stroke-width="0.9"/>
<rect x="562.23" y="438.5" width="5.6" height="5.6" fill="none" stroke="#000" stroke-width="0.9"/>
<rect x="561.78" y="439.75" width="6.5" height="13.5" fill="#000"/>
<rect x="562.23" y="448.7" width="5.6" height="5.6" fill="none" stroke="#000" stroke-width="0.9"/>
<rect x="562.23" y="450.2" width="5.6" height="5.6" fill="none" stroke="#000" stroke-width="0.9"/>
<rect x="573.23" y="432.4" width="5.6" height="5.6" fill="none" stroke="#000" stroke-width="0.9"/>
<rect x="572.78" y="433.75" width="6.5" height="14.5" fill="#000"/>
<rect x="573.23" y="444.7" width="5.6" height="5.6" fill="none" stroke="#000" stroke-width="0.9"/>
<rect x="584.23" y="430.2" width="5.6" height="5.6" fill="none" stroke="#000" stroke-width="0.9"/>
<rect x="584.23" y="431.8" width="5.6" height="5.6" fill="none" stroke="#000" stroke-width="0.9"/>
<rect x="584.23" y="433.4" width="5.6" height="5.6" fill="none" stroke="#000" stroke-width="0.9"/>
<rect x="584.23" y="435" width="5.6" height="5.6" fill="none" stroke="#000" stroke-width="0.9"/>
<rect x="584.23" y="436.6" width="5.6" height="5.6" fill="none" stroke="#000" stroke-width="0.9"/>
<rect x="584.23" y="438.2" width="5.6" height="5.6" fill="none" stroke="#000" stroke-width="0.9"/>
<rect x="584.23" y="439.8" width="5.6" height="5.6" fill="none" stroke="#000" stroke-width="0.9"/>
<rect x="584.23" y="444.5" width="5.6" height="5.6" fill="none" stroke="#000" stroke-width="0.9"/>
<rect x="595.24" y="424.2" width="5.6" height="5.6" fill="none" stroke="#000" stroke-width="0.9"/>
<rect x="595.24" y="425.8" width="5.6" height="5.6" fill="none" stroke="#000" stroke-width="0.9"/>
<rect x="595.24" y="427.4" width="5.6" height="5.6" fill="none" stroke="#000" stroke-width="0.9"/>
<rect x="595.24" y="429" width="5.6" height="5.6" fill="none" stroke="#000" stroke-width="0.9"/>
<rect x="595.24" y="430.6" width="5.6" height="5.6" fill="none" stroke="#000" stroke-width="0.9"/>
<rect x="595.24" y="432.2" width="5.6" height="5.6" fill="none" stroke="#000" stroke-width="0.9"/>
<rect x="595.24" y="433.8" width="5.6" height="5.6" fill="none" stroke="#000" stroke-width="0.9"/>
<rect x="606.24" y="411" width="5.6" height="5.6" fill="none" stroke="#000" stroke-width="0.9"/>
<rect x="606.24" y="413.2" width="5.6" height="5.6" fill="none" stroke="#000" stroke-width="0.9"/>
<rect x="606.24" y="415" width="5.6" height="5.6" fill="none" stroke="#000" stroke-width="0.9"/>
<rect x="606.24" y="416.8" width="5.6" height="5.6" fill="none" stroke="#000" stroke-width="0.9"/>
<rect x="606.24" y="418.6" width="5.6" height="5.6" fill="none" stroke="#000" stroke-width="0.9"/>
<rect x="606.24" y="420.4" width="5.6" height="5.6" fill="none" stroke="#000" stroke-width="0.9"/>
<rect x="606.24" y="422.2" width="5.6" height="5.6" fill="none" stroke="#000" stroke-width="0.9"/>
<rect x="606.24" y="424" width="5.6" height="5.6" fill="none" stroke="#000" stroke-width="0.9"/>
<rect x="606.24" y="425.8" width="5.6" height="5.6" fill="none" stroke="#000" stroke-width="0.9"/>
<rect x="606.24" y="427.6" width="5.6" height="5.6" fill="none" stroke="#000" stroke-width="0.9"/>
<rect x="606.24" y="429.4" width="5.6" height="5.6" fill="none" stroke="#000" stroke-width="0.9"/>
<rect x="606.24" y="431.2" width="5.6" height="5.6" fill="none" stroke="#000" stroke-width="0.9"/>
<rect x="606.24" y="433" width="5.6" height="5.6" fill="none" stroke="#000" stroke-width="0.9"/>
<rect x="606.24" y="435.7" width="5.6" height="5.6" fill="none" stroke="#000" stroke-width="0.9"/>
<rect x="617.24" y="413.2" width="5.6" height="5.6" fill="none" stroke="#000" stroke-width="0.9"/>
<rect x="617.24" y="414.7" width="5.6" height="5.6" fill="none" stroke="#000" stroke-width="0.9"/>
<rect x="617.24" y="416.2" width="5.6" height="5.6" fill="none" stroke="#000" stroke-width="0.9"/>
<rect x="617.24" y="417.7" width="5.6" height="5.6" fill="none" stroke="#000" stroke-width="0.9"/>
<rect x="617.24" y="419.2" width="5.6" height="5.6" fill="none" stroke="#000" stroke-width="0.9"/>
<rect x="617.24" y="420.7" width="5.6" height="5.6" fill="none" stroke="#000" stroke-width="0.9"/>
<rect x="617.24" y="422.2" width="5.6" height="5.6" fill="none" stroke="#000" stroke-width="0.9"/>
<rect x="617.24" y="423.7" width="5.6" height="5.6" fill="none" stroke="#000" stroke-width="0.9"/>
<rect x="617.24" y="425.2" width="5.6" height="5.6" fill="none" stroke="#000" stroke-width="0.9"/>
<rect x="617.24" y="426.7" width="5.6" height="5.6" fill="none" stroke="#000" stroke-width="0.9"/>
<rect x="617.24" y="428.2" width="5.6" height="5.6" fill="none" stroke="#000" stroke-width="0.9"/>
<rect x="617.24" y="432.2" width="5.6" height="5.6" fill="none" stroke="#000" stroke-width="0.9"/>
<rect x="617.24" y="434.7" width="5.6" height="5.6" fill="none" stroke="#000" stroke-width="0.9"/>
<rect x="628.25" y="426.9" width="5.6" height="5.6" fill="none" stroke="#000" stroke-width="0.9"/>
<rect x="628.25" y="429.2" width="5.6" height="5.6" fill="none" stroke="#000" stroke-width="0.9"/>
<rect x="628.25" y="431.5" width="5.6" height="5.6" fill="none" stroke="#000" stroke-width="0.9"/>
<rect x="628.25" y="433.8" width="5.6" height="5.6" fill="none" stroke="#000" stroke-width="0.9"/>
<rect x="639.25" y="415.2" width="5.6" height="5.6" fill="none" stroke="#000" stroke-width="0.9"/>
<rect x="639.25" y="417.7" width="5.6" height="5.6" fill="none" stroke="#000" stroke-width="0.9"/>
<rect x="650.25" y="421.6" width="5.6" height="5.6" fill="none" stroke="#000" stroke-width="0.9"/>
<rect x="650.25" y="422.8" width="5.6" height="5.6" fill="none" stroke="#000" stroke-width="0.9"/>
<rect x="661.26" y="377.2" width="5.6" height="5.6" fill="none" stroke="#000" stroke-width="0.9"/>
<rect x="661.26" y="379.6" width="5.6" height="5.6" fill="none" stroke="#000" stroke-width="0.9"/>
<rect x="661.26" y="382" width="5.6" height="5.6" fill="none" stroke="#000" stroke-width="0.9"/>
<rect x="661.26" y="384.4" width="5.6" height="5.6" fill="none" stroke="#000" stroke-width="0.9"/>
<rect x="661.26" y="386.8" width="5.6" height="5.6" fill="none" stroke="#000" stroke-width="0.9"/>
<rect x="661.26" y="389.2" width="5.6" height="5.6" fill="none" stroke="#000" stroke-width="0.9"/>
<rect x="661.26" y="391.6" width="5.6" height="5.6" fill="none" stroke="#000" stroke-width="0.9"/>
<rect x="661.26" y="394" width="5.6" height="5.6" fill="none" stroke="#000" stroke-width="0.9"/>
<rect x="661.26" y="396.4" width="5.6" height="5.6" fill="none" stroke="#000" stroke-width="0.9"/>
<rect x="661.26" y="398.8" width="5.6" height="5.6" fill="none" stroke="#000" stroke-width="0.9"/>
<rect x="661.26" y="401.2" width="5.6" height="5.6" fill="none" stroke="#000" stroke-width="0.9"/>
<rect x="661.26" y="403.6" width="5.6" height="5.6" fill="none" stroke="#000" stroke-width="0.9"/>
<rect x="661.26" y="406" width="5.6" height="5.6" fill="none" stroke="#000" stroke-width="0.9"/>
<rect x="661.26" y="420.1" width="5.6" height="5.6" fill="none" stroke="#000" stroke-width="0.9"/>
<rect x="672.26" y="362.2" width="5.6" height="5.6" fill="none" stroke="#000" stroke-width="0.9"/>
<rect x="672.26" y="376.6" width="5.6" height="5.6" fill="none" stroke="#000" stroke-width="0.9"/>
<rect x="672.26" y="377.8" width="5.6" height="5.6" fill="none" stroke="#000" stroke-width="0.9"/>
<rect x="672.26" y="379" width="5.6" height="5.6" fill="none" stroke="#000" stroke-width="0.9"/>
<rect x="672.26" y="383.2" width="5.6" height="5.6" fill="none" stroke="#000" stroke-width="0.9"/>
<rect x="672.26" y="384.8" width="5.6" height="5.6" fill="none" stroke="#000" stroke-width="0.9"/>
<rect x="672.26" y="386.4" width="5.6" height="5.6" fill="none" stroke="#000" stroke-width="0.9"/>
<rect x="672.26" y="388" width="5.6" height="5.6" fill="none" stroke="#000" stroke-width="0.9"/>
<rect x="672.26" y="389.6" width="5.6" height="5.6" fill="none" stroke="#000" stroke-width="0.9"/>
<rect x="672.26" y="391.2" width="5.6" height="5.6" fill="none" stroke="#000" stroke-width="0.9"/>
<rect x="672.26" y="392.8" width="5.6" height="5.6" fill="none" stroke="#000" stroke-width="0.9"/>
<rect x="672.26" y="394.4" width="5.6" height="5.6" fill="none" stroke="#000" stroke-width="0.9"/>
<rect x="672.26" y="396" width="5.6" height="5.6" fill="none" stroke="#000" stroke-width="0.9"/>
<rect x="672.26" y="397.6" width="5.6" height="5.6" fill="none" stroke="#000" stroke-width="0.9"/>
<rect x="672.26" y="399.2" width="5.6" height="5.6" fill="none" stroke="#000" stroke-width="0.9"/>
<rect x="672.26" y="400.8" width="5.6" height="5.6" fill="none" stroke="#000" stroke-width="0.9"/>
<rect x="672.26" y="412.3" width="5.6" height="5.6" fill="none" stroke="#000" stroke-width="0.9"/>
<rect x="672.26" y="413.5" width="5.6" height="5.6" fill="none" stroke="#000" stroke-width="0.9"/>
<rect x="672.26" y="414.7" width="5.6" height="5.6" fill="none" stroke="#000" stroke-width="0.9"/>
<rect x="672.26" y="415.9" width="5.6" height="5.6" fill="none" stroke="#000" stroke-width="0.9"/>
<rect x="672.26" y="434.7" width="5.6" height="5.6" fill="none" stroke="#000" stroke-width="0.9"/>
<rect x="683.26" y="356.4" width="5.6" height="5.6" fill="none" stroke="#000" stroke-width="0.9"/>
<rect x="683.26" y="372.2" width="5.6" height="5.6" fill="none" stroke="#000" stroke-width="0.9"/>
<rect x="683.26" y="374.9" width="5.6" height="5.6" fill="none" stroke="#000" stroke-width="0.9"/>
<rect x="683.26" y="377.6" width="5.6" height="5.6" fill="none" stroke="#000" stroke-width="0.9"/>
<rect x="683.26" y="380.3" width="5.6" height="5.6" fill="none" stroke="#000" stroke-width="0.9"/>
<rect x="683.26" y="383" width="5.6" height="5.6" fill="none" stroke="#000" stroke-width="0.9"/>
<rect x="683.26" y="385.7" width="5.6" height="5.6" fill="none" stroke="#000" stroke-width="0.9"/>
<rect x="683.26" y="388.4" width="5.6" height="5.6" fill="none" stroke="#000" stroke-width="0.9"/>
<rect x="683.26" y="391.1" width="5.6" height="5.6" fill="none" stroke="#000" stroke-width="0.9"/>
<rect x="683.26" y="393.8" width="5.6" height="5.6" fill="none" stroke="#000" stroke-width="0.9"/>
<rect x="683.26" y="396.5" width="5.6" height="5.6" fill="none" stroke="#000" stroke-width="0.9"/>
<rect x="683.26" y="399.2" width="5.6" height="5.6" fill="none" stroke="#000" stroke-width="0.9"/>
<rect x="683.26" y="401.9" width="5.6" height="5.6" fill="none" stroke="#000" stroke-width="0.9"/>
<rect x="683.26" y="417" width="5.6" height="5.6" fill="none" stroke="#000" stroke-width="0.9"/>
<rect x="683.26" y="423.5" width="5.6" height="5.6" fill="none" stroke="#000" stroke-width="0.9"/>
<rect x="683.26" y="429.5" width="5.6" height="5.6" fill="none" stroke="#000" stroke-width="0.9"/>
<rect x="694.27" y="352.8" width="5.6" height="5.6" fill="none" stroke="#000" stroke-width="0.9"/>
<rect x="694.27" y="364.2" width="5.6" height="5.6" fill="none" stroke="#000" stroke-width="0.9"/>
<rect x="694.27" y="373.6" width="5.6" height="5.6" fill="none" stroke="#000" stroke-width="0.9"/>
<rect x="694.27" y="376.3" width="5.6" height="5.6" fill="none" stroke="#000" stroke-width="0.9"/>
<rect x="694.27" y="379" width="5.6" height="5.6" fill="none" stroke="#000" stroke-width="0.9"/>
<rect x="694.27" y="381.7" width="5.6" height="5.6" fill="none" stroke="#000" stroke-width="0.9"/>
<rect x="694.27" y="384.4" width="5.6" height="5.6" fill="none" stroke="#000" stroke-width="0.9"/>
<rect x="694.27" y="387.1" width="5.6" height="5.6" fill="none" stroke="#000" stroke-width="0.9"/>
<rect x="694.27" y="389.8" width="5.6" height="5.6" fill="none" stroke="#000" stroke-width="0.9"/>
<rect x="694.27" y="392.5" width="5.6" height="5.6" fill="none" stroke="#000" stroke-width="0.9"/>
<rect x="694.27" y="395.2" width="5.6" height="5.6" fill="none" stroke="#000" stroke-width="0.9"/>
<rect x="694.27" y="397.9" width="5.6" height="5.6" fill="none" stroke="#000" stroke-width="0.9"/>
<rect x="694.27" y="400.6" width="5.6" height="5.6" fill="none" stroke="#000" stroke-width="0.9"/>
<rect x="694.27" y="403.3" width="5.6" height="5.6" fill="none" stroke="#000" stroke-width="0.9"/>
<rect x="694.27" y="406" width="5.6" height="5.6" fill="none" stroke="#000" stroke-width="0.9"/>
<rect x="694.27" y="408.7" width="5.6" height="5.6" fill="none" stroke="#000" stroke-width="0.9"/>
<rect x="705.27" y="351" width="5.6" height="5.6" fill="none" stroke="#000" stroke-width="0.9"/>
<rect x="705.27" y="356.1" width="5.6" height="5.6" fill="none" stroke="#000" stroke-width="0.9"/>
<rect x="705.27" y="363.9" width="5.6" height="5.6" fill="none" stroke="#000" stroke-width="0.9"/>
<rect x="705.27" y="375.8" width="5.6" height="5.6" fill="none" stroke="#000" stroke-width="0.9"/>
<rect x="705.27" y="378.5" width="5.6" height="5.6" fill="none" stroke="#000" stroke-width="0.9"/>
<rect x="705.27" y="381.2" width="5.6" height="5.6" fill="none" stroke="#000" stroke-width="0.9"/>
<rect x="705.27" y="383.9" width="5.6" height="5.6" fill="none" stroke="#000" stroke-width="0.9"/>
<rect x="705.27" y="386.6" width="5.6" height="5.6" fill="none" stroke="#000" stroke-width="0.9"/>
<rect x="705.27" y="389.3" width="5.6" height="5.6" fill="none" stroke="#000" stroke-width="0.9"/>
<rect x="705.27" y="392" width="5.6" height="5.6" fill="none" stroke="#000" stroke-width="0.9"/>
<rect x="705.27" y="394.7" width="5.6" height="5.6" fill="none" stroke="#000" stroke-width="0.9"/>
<rect x="705.27" y="397.4" width="5.6" height="5.6" fill="none" stroke="#000" stroke-width="0.9"/>
<rect x="705.27" y="400.1" width="5.6" height="5.6" fill="none" stroke="#000" stroke-width="0.9"/>
<rect x="705.27" y="402.8" width="5.6" height="5.6" fill="none" stroke="#000" stroke-width="0.9"/>
<rect x="705.27" y="414.8" width="5.6" height="5.6" fill="none" stroke="#000" stroke-width="0.9"/>
<rect x="716.27" y="361.2" width="5.6" height="5.6" fill="none" stroke="#000" stroke-width="0.9"/>
<rect x="716.27" y="363.6" width="5.6" height="5.6" fill="none" stroke="#000" stroke-width="0.9"/>
<rect x="716.27" y="366" width="5.6" height="5.6" fill="none" stroke="#000" stroke-width="0.9"/>
<rect x="716.27" y="368.4" width="5.6" height="5.6" fill="none" stroke="#000" stroke-width="0.9"/>
<rect x="716.27" y="370.8" width="5.6" height="5.6" fill="none" stroke="#000" stroke-width="0.9"/>
<rect x="716.27" y="373.2" width="5.6" height="5.6" fill="none" stroke="#000" stroke-width="0.9"/>
<rect x="716.27" y="375.6" width="5.6" height="5.6" fill="none" stroke="#000" stroke-width="0.9"/>
<rect x="716.27" y="378" width="5.6" height="5.6" fill="none" stroke="#000" stroke-width="0.9"/>
<rect x="716.27" y="380.4" width="5.6" height="5.6" fill="none" stroke="#000" stroke-width="0.9"/>
<rect x="716.27" y="382.8" width="5.6" height="5.6" fill="none" stroke="#000" stroke-width="0.9"/>
<rect x="716.27" y="385.2" width="5.6" height="5.6" fill="none" stroke="#000" stroke-width="0.9"/>
<rect x="716.27" y="402.3" width="5.6" height="5.6" fill="none" stroke="#000" stroke-width="0.9"/>
<rect x="716.27" y="406.7" width="5.6" height="5.6" fill="none" stroke="#000" stroke-width="0.9"/>
<rect x="727.28" y="358.4" width="5.6" height="5.6" fill="none" stroke="#000" stroke-width="0.9"/>
<rect x="727.28" y="370.5" width="5.6" height="5.6" fill="none" stroke="#000" stroke-width="0.9"/>
<rect x="727.28" y="390" width="5.6" height="5.6" fill="none" stroke="#000" stroke-width="0.9"/>
<rect x="727.28" y="396.7" width="5.6" height="5.6" fill="none" stroke="#000" stroke-width="0.9"/>
<rect x="727.28" y="402.7" width="5.6" height="5.6" fill="none" stroke="#000" stroke-width="0.9"/>
<rect x="727.28" y="409.8" width="5.6" height="5.6" fill="none" stroke="#000" stroke-width="0.9"/>
<rect x="727.28" y="432" width="5.6" height="5.6" fill="none" stroke="#000" stroke-width="0.9"/>
<rect x="738.28" y="361.4" width="5.6" height="5.6" fill="none" stroke="#000" stroke-width="0.9"/>
<rect x="738.28" y="379.5" width="5.6" height="5.6" fill="none" stroke="#000" stroke-width="0.9"/>
<rect x="738.28" y="420.3" width="5.6" height="5.6" fill="none" stroke="#000" stroke-width="0.9"/>
<line x1="509.9" y1="471.2" x2="696.3" y2="383.3" stroke="#0000ff" stroke-width="2.2" stroke-linecap="butt"/>
<line x1="509.9" y1="460.5" x2="734.6" y2="379.3" stroke="#008b00" stroke-width="2.2" stroke-dasharray="15.4 6.9" stroke-linecap="butt"/>
<rect x="477" y="276.3" width="330.1" height="231" fill="none" stroke="#333" stroke-width="1"/>
<line x1="504.51" y1="507.3" x2="504.51" y2="503.8" stroke="#333" stroke-width="1" stroke-linecap="butt"/>
<line x1="504.51" y1="276.3" x2="504.51" y2="279.8" stroke="#333" stroke-width="1" stroke-linecap="butt"/>
<line x1="532.02" y1="507.3" x2="532.02" y2="501.3" stroke="#333" stroke-width="1" stroke-linecap="butt"/>
<line x1="532.02" y1="276.3" x2="532.02" y2="282.3" stroke="#333" stroke-width="1" stroke-linecap="butt"/>
<line x1="559.52" y1="507.3" x2="559.52" y2="503.8" stroke="#333" stroke-width="1" stroke-linecap="butt"/>
<line x1="559.52" y1="276.3" x2="559.52" y2="279.8" stroke="#333" stroke-width="1" stroke-linecap="butt"/>
<line x1="587.03" y1="507.3" x2="587.03" y2="501.3" stroke="#333" stroke-width="1" stroke-linecap="butt"/>
<line x1="587.03" y1="276.3" x2="587.03" y2="282.3" stroke="#333" stroke-width="1" stroke-linecap="butt"/>
<line x1="614.54" y1="507.3" x2="614.54" y2="503.8" stroke="#333" stroke-width="1" stroke-linecap="butt"/>
<line x1="614.54" y1="276.3" x2="614.54" y2="279.8" stroke="#333" stroke-width="1" stroke-linecap="butt"/>
<line x1="642.05" y1="507.3" x2="642.05" y2="501.3" stroke="#333" stroke-width="1" stroke-linecap="butt"/>
<line x1="642.05" y1="276.3" x2="642.05" y2="282.3" stroke="#333" stroke-width="1" stroke-linecap="butt"/>
<line x1="669.56" y1="507.3" x2="669.56" y2="503.8" stroke="#333" stroke-width="1" stroke-linecap="butt"/>
<line x1="669.56" y1="276.3" x2="669.56" y2="279.8" stroke="#333" stroke-width="1" stroke-linecap="butt"/>
<line x1="697.07" y1="507.3" x2="697.07" y2="501.3" stroke="#333" stroke-width="1" stroke-linecap="butt"/>
<line x1="697.07" y1="276.3" x2="697.07" y2="282.3" stroke="#333" stroke-width="1" stroke-linecap="butt"/>
<line x1="724.58" y1="507.3" x2="724.58" y2="503.8" stroke="#333" stroke-width="1" stroke-linecap="butt"/>
<line x1="724.58" y1="276.3" x2="724.58" y2="279.8" stroke="#333" stroke-width="1" stroke-linecap="butt"/>
<line x1="752.08" y1="507.3" x2="752.08" y2="501.3" stroke="#333" stroke-width="1" stroke-linecap="butt"/>
<line x1="752.08" y1="276.3" x2="752.08" y2="282.3" stroke="#333" stroke-width="1" stroke-linecap="butt"/>
<line x1="779.59" y1="507.3" x2="779.59" y2="503.8" stroke="#333" stroke-width="1" stroke-linecap="butt"/>
<line x1="779.59" y1="276.3" x2="779.59" y2="279.8" stroke="#333" stroke-width="1" stroke-linecap="butt"/>
<line x1="477" y1="488.9" x2="483" y2="488.9" stroke="#333" stroke-width="1" stroke-linecap="butt"/>
<line x1="807.1" y1="488.9" x2="801.1" y2="488.9" stroke="#333" stroke-width="1" stroke-linecap="butt"/>
<line x1="477" y1="468.25" x2="480.5" y2="468.25" stroke="#333" stroke-width="1" stroke-linecap="butt"/>
<line x1="807.1" y1="468.25" x2="803.6" y2="468.25" stroke="#333" stroke-width="1" stroke-linecap="butt"/>
<line x1="477" y1="447.6" x2="480.5" y2="447.6" stroke="#333" stroke-width="1" stroke-linecap="butt"/>
<line x1="807.1" y1="447.6" x2="803.6" y2="447.6" stroke="#333" stroke-width="1" stroke-linecap="butt"/>
<line x1="477" y1="426.95" x2="480.5" y2="426.95" stroke="#333" stroke-width="1" stroke-linecap="butt"/>
<line x1="807.1" y1="426.95" x2="803.6" y2="426.95" stroke="#333" stroke-width="1" stroke-linecap="butt"/>
<line x1="477" y1="406.3" x2="483" y2="406.3" stroke="#333" stroke-width="1" stroke-linecap="butt"/>
<line x1="807.1" y1="406.3" x2="801.1" y2="406.3" stroke="#333" stroke-width="1" stroke-linecap="butt"/>
<line x1="477" y1="385.65" x2="480.5" y2="385.65" stroke="#333" stroke-width="1" stroke-linecap="butt"/>
<line x1="807.1" y1="385.65" x2="803.6" y2="385.65" stroke="#333" stroke-width="1" stroke-linecap="butt"/>
<line x1="477" y1="365" x2="480.5" y2="365" stroke="#333" stroke-width="1" stroke-linecap="butt"/>
<line x1="807.1" y1="365" x2="803.6" y2="365" stroke="#333" stroke-width="1" stroke-linecap="butt"/>
<line x1="477" y1="344.35" x2="480.5" y2="344.35" stroke="#333" stroke-width="1" stroke-linecap="butt"/>
<line x1="807.1" y1="344.35" x2="803.6" y2="344.35" stroke="#333" stroke-width="1" stroke-linecap="butt"/>
<line x1="477" y1="323.7" x2="483" y2="323.7" stroke="#333" stroke-width="1" stroke-linecap="butt"/>
<line x1="807.1" y1="323.7" x2="801.1" y2="323.7" stroke="#333" stroke-width="1" stroke-linecap="butt"/>
<line x1="477" y1="303.05" x2="480.5" y2="303.05" stroke="#333" stroke-width="1" stroke-linecap="butt"/>
<line x1="807.1" y1="303.05" x2="803.6" y2="303.05" stroke="#333" stroke-width="1" stroke-linecap="butt"/>
<line x1="477" y1="282.4" x2="480.5" y2="282.4" stroke="#333" stroke-width="1" stroke-linecap="butt"/>
<line x1="807.1" y1="282.4" x2="803.6" y2="282.4" stroke="#333" stroke-width="1" stroke-linecap="butt"/>
<text transform="translate(477.8 524.5) scale(1 1.12)" font-size="13.4" text-anchor="middle">0</text>
<text transform="translate(532.82 524.5) scale(1 1.12)" font-size="13.4" text-anchor="middle">5</text>
<text transform="translate(587.83 524.5) scale(1 1.12)" font-size="13.4" text-anchor="middle">10</text>
<text transform="translate(642.85 524.5) scale(1 1.12)" font-size="13.4" text-anchor="middle">15</text>
<text transform="translate(697.87 524.5) scale(1 1.12)" font-size="13.4" text-anchor="middle">20</text>
<text transform="translate(752.88 524.5) scale(1 1.12)" font-size="13.4" text-anchor="middle">25</text>
<text transform="translate(807.9 524.5) scale(1 1.12)" font-size="13.4" text-anchor="middle">30</text>
<text transform="translate(474.5 493.9) scale(1 1.12)" font-size="13.4" text-anchor="end">5</text>
<text transform="translate(474.5 411.3) scale(1 1.12)" font-size="13.4" text-anchor="end">10</text>
<text transform="translate(474.5 328.7) scale(1 1.12)" font-size="13.4" text-anchor="end">15</text>
<text transform="translate(641.8 546.2) scale(1 1.0)" font-size="17.6" text-anchor="middle">k</text>
<text transform="translate(425.3 395.7) scale(1 1.0)" font-size="18" text-anchor="start">d</text>
<line x1="425.3" y1="381.2" x2="434.9" y2="381.2" stroke="#000" stroke-width="1" stroke-linecap="butt"/>
<text transform="translate(434.2 402.7) scale(1 1.0)" font-size="12.6" text-anchor="start">k</text>
<rect x="708.1" y="292" width="89.6" height="55.4" fill="#fff" stroke="#555" stroke-width="1"/>
<circle cx="727.2" cy="300.9" r="3.1" fill="#f00" stroke="#000" stroke-width="1.0"/>
<text transform="translate(749 304.8) scale(1 1.0)" font-size="13.5" text-anchor="start">last</text>
<line x1="712.5" y1="313.3" x2="742.3" y2="313.3" stroke="#0000ff" stroke-width="2" stroke-linecap="butt"/>
<text transform="translate(749 317.6) scale(1 1.0)" font-size="13.5" text-anchor="start">~ 0.31 k</text>
<rect x="724.4" y="323.6" width="5.6" height="5.6" fill="none" stroke="#000" stroke-width="0.9"/>
<text transform="translate(749 330.2) scale(1 1.0)" font-size="13.5" text-anchor="start">rnd</text>
<line x1="712.5" y1="339.3" x2="742.3" y2="339.3" stroke="#008b00" stroke-width="2" stroke-dasharray="15.5 7" stroke-linecap="butt"/>
<text transform="translate(749 343.4) scale(1 1.0)" font-size="13.5" text-anchor="start">~ 0.24 k</text>
</svg></body></html>
